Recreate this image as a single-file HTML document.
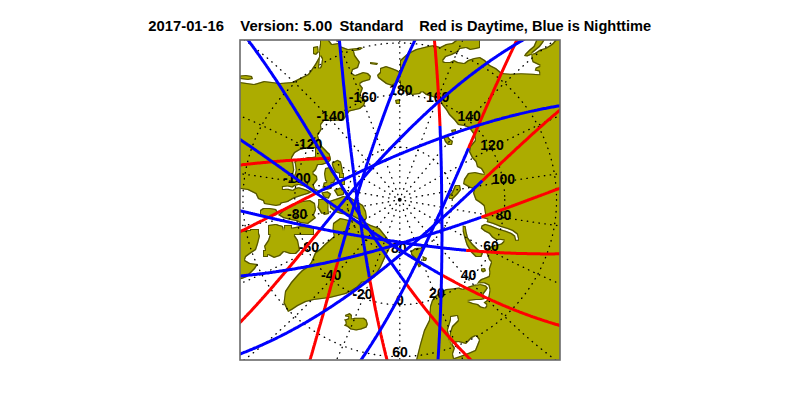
<!DOCTYPE html><html><head><meta charset="utf-8"><style>
html,body{margin:0;padding:0;background:#fff;width:800px;height:400px;overflow:hidden}
.t{position:absolute;top:18px;left:149px;font:bold 14.5px "Liberation Sans",sans-serif;white-space:pre;color:#000}
svg{position:absolute;left:0;top:0}
</style></head><body>
<div class="t" style="left:148.3px;font-size:14.8px">2017-01-16</div><div class="t" style="left:240.3px;font-size:14.9px">Version: 5.00</div><div class="t" style="left:339.4px;font-size:14.8px">Standard</div><div class="t" style="left:419.2px;font-size:14.6px">Red is Daytime, Blue is Nighttime</div>
<svg width="800" height="400" viewBox="0 0 800 400">
<defs><clipPath id="c"><rect x="240" y="40" width="320" height="320"/></clipPath></defs>
<g clip-path="url(#c)">
<filter id="edge" x="230" y="30" width="340" height="340" filterUnits="userSpaceOnUse" color-interpolation-filters="sRGB">
<feColorMatrix in="SourceGraphic" type="matrix" values="0 0 0 0 0  0 0 0 0 0  0 0 0 0 0  0 0 -1 0 1" result="land"/>
<feMorphology in="land" operator="erode" radius="0.7" result="er"/>
<feComposite in="land" in2="er" operator="out" result="edge"/>
<feFlood flood-color="#1a1a00" flood-opacity="0.6"/>
<feComposite in2="edge" operator="in" result="edgec"/>
<feMerge><feMergeNode in="SourceGraphic"/><feMergeNode in="edgec"/></feMerge>
</filter>
<g filter="url(#edge)"><rect x="230" y="30" width="340" height="340" fill="#fff"/><polygon fill="#acac00" points="230,82 240,82 254,84 264,81 280,83 292,82 300,78 308,74 311,70 315,64 319,57 319,50 320,44 320,40 320,30 329,30 329,40 332,44 338,43 339,40 340,46 348,49 357,48 360,47 363,48 360,50 354,51 355,55 360,62 358,68 353,70 352,73 355,75 363,72 368,73 371,76 370,80 363,82 360,84 363,88 362,91 360,96 366,100 364,106 360,109 349.5,111.5 343.5,120.5 324,121 321,125 321.7,129.5 318,135.5 319.5,140 322,146 326,150 330,155 331,160 328,163 322,165 318,165 316,170 313,173 317,176 317.5,180 313.75,185 315,188.75 320,191 322,200 326,214 318,230 300,236 280,240 240,240 230,240"/>
<polygon fill="#fff" points="320,56 322,59 321,66 319,68"/>
<polygon fill="#fff" points="295,153 300,150 304,149 310,148 314,148 320,150 319,156 312,157 308,157 302,159 296,160 293,163 292,158"/>
<polyline fill="none" stroke="#fff" stroke-width="1.5" stroke-linejoin="round" stroke-linecap="round" points="294,163 295,170 294,174"/>
<polyline fill="none" stroke="#fff" stroke-width="2" stroke-linejoin="round" stroke-linecap="round" points="283.75,188 287.5,187.5 292.5,188.75 295,187 298.75,186 303.75,187.5 307.5,188.75 312.5,191 317.5,192.5"/>
<polyline fill="none" stroke="#fff" stroke-width="3.5" stroke-linejoin="round" stroke-linecap="round" points="282.5,205 288.75,203.75 295,200 302.5,197.5 307.5,196 312.5,193.75 317.5,192.5 322,194"/>
<polygon fill="#fff" points="270,207.5 275,208.75 277.5,211 273.75,212.5 270,212.5"/>
<polygon fill="#fff" points="230,187.6 247.6,190 255.6,194 258,199 263,201 264,204 270,205 276,206 281,205 284,204.5 290,201 294,199 300,198 306,195 312,194 318,194 322,196 330,194 345,189 357,196 380,200 400,200 400,370 230,370"/>
<polygon fill="#acac00" points="230,233 248,230 258,230 260,236 258,244 256,250 250,254 246,257 245,260 250,263 258,264 255,269 251,273 247,277 242,279 230,281"/>
<polygon fill="#acac00" points="268,228 276,224 282,226 286,229 292,228 294,234 298,240 300,250 296,254 290,254 284,252 280,256 274,258 266,254 264,246 268,240 270,234"/>
<polygon fill="#fff" points="283,225 289,225 289,230 284,230"/>
<polygon fill="#acac00" points="260,210 263,208 270,208 276,209 278,212 277,215 270,217 265,218 260,215"/>
<polygon fill="#acac00" points="278,215 283,210 290,206 295,203 302,201 310,200 315,203 316,210 314,215 316,218 312,221 308,224 300,223 296,221 290,220 283,218"/>
<polygon fill="#acac00" points="318,199 324,199 328,205 329,214 324,215 320,210"/>
<polygon fill="#acac00" points="268,225 275,224 283,226 283,235 268,235"/>
<polygon fill="#acac00" points="284,225 292,225 292,230 284,230"/>
<polygon fill="#acac00" points="290,228 300,226 314,227 314,235 290,235"/>
<polygon fill="#acac00" points="250,229 259,229 259,235 250,235"/>
<polygon fill="#acac00" points="263,250 268,250 268,257 263,257"/>
<polygon fill="#acac00" points="315,146.7 317.2,146.7 321.7,146.2 325.1,150.1 329.6,153.5 330.7,159.1 327.4,161.4 324,163.6 319.5,164.7 315,165.9"/>
<polygon fill="#acac00" points="331.9,162.5 337.5,159.7 340.9,161.4 342,165.9 343.1,172.6 339.7,173.7 335.2,172.6 333,168.1 331.9,164.7"/>
<polygon fill="#acac00" points="325.1,168.1 329.6,167 331.9,171.5 334.7,174.9 336.4,178.2 334.1,182.7 328.5,183.9 325.1,180.5 324,173.7"/>
<polygon fill="#acac00" points="339,173 344,173 344,178 339,178"/>
<polygon fill="#acac00" points="341,180 345,180 345,185 341,185"/>
<polygon fill="#acac00" points="323.75,182.5 330,181.25 332.5,185 331.25,188.75 326.25,190 322.5,187.5"/>
<polygon fill="#acac00" points="321.25,192.5 327.5,191.25 331.25,193.75 328.75,198.75 323.75,197.5"/>
<polygon fill="#acac00" points="333.75,190 340,187.5 345,188.75 343.75,195 337.5,196.25"/>
<polygon fill="#acac00" points="318.75,200 325,198.75 328.75,203.75 327.5,212.5 321.25,213.75 317.5,207.5"/>
<polygon fill="#acac00" points="338,198 343,196 350,197 358,202 363,205 366,211 367,218 365,221 359,220 350,215 341,214 335,212 330,208 329,201"/>
<polygon fill="#acac00" points="288,312 283.5,303 285,291 291,282 298,274 302,270 308,266 311,262 315,252.5 320,248.75 325,243.75 333.75,236.25 332.5,230 333,223 340,218 345,219 349,220 355,220 365,222 371,225 379.5,228 387.5,238 391,246 386,256 381,267 375,277 367.5,282 362.5,282.5 357.5,287.5 352,291 346,294 338,296 330,298 322,299 314,300 306,302 298,306 292,310"/>
<polygon fill="#acac00" points="313,47 318,46 319,52 316,55 313,54"/>
<polygon fill="#acac00" points="240,75.5 246,75 252,76 253,79 248,80 240,79"/>
<polygon fill="#acac00" points="380,68 386,66 392,68 397,70 402,73 402,80 392,86 386,84 378,78 377,75 380,72"/>
<polygon fill="#acac00" points="370,62 378,63 377,65 370,64"/>
<polygon fill="#acac00" points="395,100 400,99 400,104 396,104"/>
<polygon fill="#acac00" points="400,60 408,53 416,49 428,46 434,45 440,47 446,44 452,43 456,40 456,35 480,35 480,48 476,49 470,50 466,48 460,49 458,52 452,55 446,57 443,61 445,62 450,62 454,60 458,62 464,63 468,60 474,58 480,57 485,60 490,65 496,68 502,73 510.5,73.7 521,73.2 532.6,73.7 539.4,74.2 538.9,71.6 534.7,70.6 535.7,67.4 539.9,65.8 536.8,64.3 532.6,62.2 531.5,59 531.5,54.8 527.3,56.4 524,56 525.2,53.8 529.4,49.6 533.6,45.9 536.2,40 536,35 570,35 570,370 416,370 416,360 420,344 424,330 429,320 430,306 432,300 435,296 440,292 446,289 452,288.5 455,288 459,287.5 462.5,288.75 466,287.5 470,286 473.75,285 477,283.75 478.75,281 481,279 485,277.5 488.75,276 489.4,272.5 488.75,268.75 490,265 491,262 489,260 486.7,254 486,249.5 490.5,246.5 495,245 501,243.5 504,240.5 499.5,239.7 496.5,240.5 492,237.5 489,233.7 484.5,231.5 480.7,228.5 481.5,225.5 486,223.2 487.5,219.5 482.2,218 485.2,215 484.5,210.5 483.7,206 480,203 475.5,200 474,196 473,193 474,189 470,188 463,184 464,179 468,173 475,172 484,174 481,169 477,167 475.6,162 472,158 469,152 470,146 475,140 474,135 469,128 464,126 458,125 454,120 449,115 446,110 442,105 439,99 426,95 422,92 420,94 412,95 406,92 400,90 400,66"/>
<polyline fill="none" stroke="#fff" stroke-width="2" stroke-linejoin="round" stroke-linecap="round" points="484.5,222.5 492,224.7 499.5,227.7 507,230 512,232 516,235 517,239"/>
<polygon fill="#fff" points="531.5,54 536.2,50.1 539.9,46.9 543.1,42.7 545.2,39 556,39 552.5,43.3 549.4,45.4 545.2,48 540,49.6 534.7,52.9"/>
<polygon fill="#fff" points="451,317 457,316 458,320 452,326 450,332 449,338 452,344 458,342 466,344 472,338 476,336 479,340 475,350 468,353 460,356 454,358 453,354 455,348 450,340 448,330 451,320"/>
<polygon fill="#fff" points="473.75,285.5 480,283.75 486,285.6 488,288 486,291 483.75,294 483,297 485,299 481,300 476,300 468,301 473,303 478,304 481,306.5 485,307.5 486.5,305 483.5,302.5 487,300 488.5,296 489.5,290 488.5,285.5 484,283.2 478,283.6"/>
<polygon fill="#acac00" points="481,268.5 485,268 486,271 483,272.5 481,271"/>
<polygon fill="#acac00" points="462.7,225.5 465.7,226.2 466.5,231.5 468,237.5 472.5,243.5 478.5,249.5 483,253.2 481.5,257 475.5,257 471,252.5 466.5,245 464.2,237.5 462.7,231.5"/>
<polygon fill="#acac00" points="455,185 460,185 461,190 458,194 453,199 449,199 448,196 452,192"/>
<polygon fill="#acac00" points="443,137 448,136 450,139 453,141 452,145 448,145 445,142"/>
<polygon fill="#acac00" points="451,130 456,129 456,133 452,133"/>
<polygon fill="#acac00" points="410.6,251.25 415,248 423,247.5 422.5,253.75 418.75,260 421.25,266 418.75,267.5 416.25,262.5 415,258.75 411.25,255"/>
<polygon fill="#acac00" points="422.5,256 427,258 426,261 423,261"/>
<polygon fill="#acac00" points="344.9,315.1 349.7,312.9 352,315.1 351.7,318.4 354.6,317.7 358.8,317.7 364,317.7 366.6,319.7 367.9,324.2 366.6,327.5 361.4,329.4 356.2,330.4 350.4,329.4 347.1,326.8 343.9,325.5 345.8,323.6 345.2,321 343.9,319.7 347.8,318.4 348.4,317.1 345.2,316.4"/></g>
<g stroke="#000" stroke-width="1.35" stroke-linecap="round" stroke-dasharray="0.45 5.45" fill="none"><polyline points="399.8,205.2 399.8,209.1 399.8,213.1 399.8,217.1 399.8,221.1 399.8,225.0 399.8,229.0 399.8,233.0 399.8,237.0 399.8,240.9 399.8,244.9 399.8,248.9 399.8,252.9 399.8,256.8 399.8,260.8 399.8,264.8 399.8,268.8 399.8,272.7 399.8,276.7 399.8,280.7 399.8,284.7 399.8,288.7 399.8,292.6 399.8,296.6 399.8,300.6 399.8,304.6 399.8,308.5 399.8,312.5 399.8,316.5 399.8,320.5 399.8,324.4 399.8,328.4 399.8,332.4 399.8,336.4 399.8,340.3 399.8,344.3 399.8,348.3 399.8,352.3 399.8,356.2 399.8,360.2 399.8,364.2 399.8,368.2 399.8,372.2 399.8,376.1 399.8,380.1 399.8,384.1 399.8,388.1 399.8,392.0 399.8,396.0 399.8,400.0 399.8,404.0 399.8,407.9 399.8,411.9 399.8,415.9 399.8,419.9 399.8,423.8 399.8,427.8 399.8,431.8 399.8,435.8 399.8,439.8"/><polyline points="403.5,210.0 404.8,213.6 406.1,217.3 407.5,220.9 408.8,224.6 410.1,228.2 411.5,231.9 412.8,235.5 414.1,239.2 415.5,242.8 416.8,246.5 418.2,250.1 419.5,253.7 420.9,257.4 422.3,261.0 423.6,264.6 425.0,268.3 426.4,271.9 427.8,275.5 429.2,279.2 430.6,282.8 432.0,286.4 433.4,290.0 434.8,293.6 436.2,297.2 437.7,300.9 439.1,304.5 440.5,308.1 442.0,311.7 443.5,315.3 445.0,318.8 446.5,322.4 448.0,326.0 449.5,329.6 451.0,333.2 452.6,336.7 454.1,340.3 455.7,343.9 457.3,347.4 458.9,350.9 460.5,354.5 462.1,358.0 463.7,361.5 465.4,365.1 467.1,368.6 468.7,372.1 470.4,375.6 472.2,379.1 473.9,382.6 475.7,386.0 477.4,389.5 479.2,393.0 481.0,396.4 482.9,399.9 484.7,403.3 486.6,406.7 488.5,410.2 490.4,413.6 492.3,417.0 494.3,420.3"/><polyline points="403.2,203.9 405.8,206.9 408.3,210.0 410.9,213.0 413.5,216.1 416.0,219.1 418.6,222.1 421.1,225.2 423.7,228.2 426.3,231.3 428.9,234.3 431.4,237.3 434.0,240.3 436.6,243.4 439.2,246.4 441.8,249.4 444.4,252.4 447.0,255.4 449.6,258.4 452.3,261.4 454.9,264.3 457.5,267.3 460.2,270.3 462.9,273.2 465.5,276.2 468.2,279.1 470.9,282.0 473.6,284.9 476.3,287.9 479.1,290.7 481.8,293.6 484.6,296.5 487.3,299.4 490.1,302.2 492.9,305.0 495.7,307.9 498.6,310.7 501.4,313.4 504.3,316.2 507.2,319.0 510.1,321.7 513.0,324.4 515.9,327.1 518.9,329.8 521.9,332.5 524.8,335.1 527.9,337.8 530.9,340.4 534.0,342.9 537.0,345.5 540.2,348.0 543.3,350.6 546.4,353.0 549.6,355.5 552.8,357.9 556.0,360.4 559.3,362.7 562.6,365.1 565.9,367.4 569.2,369.7"/><polyline points="409.2,205.2 412.6,207.1 415.9,209.1 419.3,211.0 422.6,213.0 426.0,214.9 429.4,216.8 432.8,218.7 436.1,220.7 439.5,222.6 442.9,224.5 446.3,226.4 449.6,228.3 453.0,230.2 456.4,232.1 459.8,234.0 463.2,235.9 466.6,237.8 470.0,239.7 473.4,241.5 476.8,243.4 480.2,245.2 483.7,247.1 487.1,248.9 490.5,250.7 493.9,252.5 497.4,254.3 500.8,256.1 504.3,257.9 507.8,259.6 511.2,261.4 514.7,263.1 518.2,264.8 521.7,266.5 525.2,268.2 528.7,269.9 532.2,271.6 535.8,273.2 539.3,274.8 542.8,276.4 546.4,278.0 550.0,279.6 553.5,281.1 557.1,282.6 560.7,284.1 564.3,285.6 568.0,287.1 571.6,288.5 575.2,289.9 578.9,291.3 582.5,292.7 586.2,294.0 589.9,295.3 593.6,296.6 597.3,297.9 601.0,299.1 604.8,300.3 608.5,301.5 612.3,302.7 616.0,303.8"/><polyline points="405.1,200.7 409.0,201.4 412.9,202.1 416.8,202.8 420.7,203.4 424.6,204.1 428.6,204.8 432.5,205.5 436.4,206.2 440.3,206.9 444.2,207.6 448.2,208.2 452.1,208.9 456.0,209.6 459.9,210.3 463.8,210.9 467.7,211.6 471.7,212.3 475.6,212.9 479.5,213.6 483.4,214.2 487.4,214.9 491.3,215.5 495.2,216.2 499.1,216.8 503.1,217.5 507.0,218.1 510.9,218.7 514.8,219.3 518.8,219.9 522.7,220.5 526.6,221.1 530.6,221.7 534.5,222.3 538.4,222.9 542.4,223.5 546.3,224.0 550.2,224.6 554.2,225.1 558.1,225.7 562.1,226.2 566.0,226.7 569.9,227.3 573.9,227.8 577.8,228.3 581.8,228.7 585.7,229.2 589.7,229.7 593.6,230.1 597.6,230.6 601.6,231.0 605.5,231.4 609.5,231.9 613.4,232.2 617.4,232.6 621.4,233.0 625.3,233.4 629.3,233.7 633.3,234.1 637.2,234.4"/><polyline points="410.5,197.9 414.3,197.2 418.1,196.5 422.0,195.8 425.8,195.2 429.6,194.5 433.4,193.8 437.3,193.2 441.1,192.5 444.9,191.8 448.7,191.2 452.6,190.5 456.4,189.8 460.2,189.2 464.0,188.5 467.9,187.9 471.7,187.2 475.5,186.6 479.4,185.9 483.2,185.3 487.0,184.7 490.8,184.0 494.7,183.4 498.5,182.8 502.3,182.2 506.2,181.5 510.0,180.9 513.9,180.3 517.7,179.7 521.5,179.1 525.4,178.6 529.2,178.0 533.0,177.4 536.9,176.8 540.7,176.3 544.6,175.7 548.4,175.2 552.3,174.6 556.1,174.1 560.0,173.6 563.8,173.1 567.7,172.5 571.5,172.0 575.4,171.6 579.2,171.1 583.1,170.6 586.9,170.1 590.8,169.7 594.7,169.2 598.5,168.8 602.4,168.4 606.3,168.0 610.1,167.6 614.0,167.2 617.9,166.8 621.7,166.5 625.6,166.1 629.5,165.8 633.4,165.4 637.2,165.1"/><polyline points="404.4,197.1 407.9,195.1 411.3,193.1 414.8,191.1 418.2,189.1 421.7,187.1 425.1,185.1 428.5,183.2 432.0,181.2 435.5,179.2 438.9,177.2 442.4,175.3 445.8,173.3 449.3,171.4 452.7,169.4 456.2,167.5 459.7,165.5 463.2,163.6 466.6,161.7 470.1,159.8 473.6,157.8 477.1,155.9 480.6,154.1 484.1,152.2 487.6,150.3 491.1,148.4 494.7,146.6 498.2,144.8 501.7,142.9 505.3,141.1 508.8,139.3 512.4,137.5 515.9,135.8 519.5,134.0 523.1,132.3 526.7,130.6 530.3,128.9 533.9,127.2 537.5,125.5 541.1,123.9 544.8,122.2 548.4,120.6 552.1,119.0 555.8,117.4 559.4,115.9 563.1,114.4 566.8,112.9 570.5,111.4 574.3,109.9 578.0,108.5 581.7,107.1 585.5,105.7 589.3,104.4 593.1,103.1 596.9,101.8 600.7,100.5 604.5,99.3 608.3,98.0 612.2,96.9 616.0,95.7"/><polyline points="406.8,191.4 409.3,188.4 411.8,185.5 414.3,182.5 416.8,179.5 419.3,176.5 421.8,173.6 424.3,170.6 426.8,167.7 429.3,164.7 431.8,161.7 434.3,158.8 436.9,155.8 439.4,152.9 441.9,150.0 444.5,147.0 447.0,144.1 449.6,141.2 452.2,138.3 454.7,135.4 457.3,132.5 459.9,129.6 462.5,126.7 465.1,123.8 467.7,120.9 470.4,118.1 473.0,115.2 475.7,112.4 478.3,109.5 481.0,106.7 483.7,103.9 486.4,101.1 489.1,98.3 491.8,95.6 494.6,92.8 497.3,90.1 500.1,87.3 502.9,84.6 505.7,81.9 508.5,79.2 511.4,76.6 514.2,73.9 517.1,71.3 520.0,68.7 522.9,66.1 525.8,63.5 528.8,60.9 531.8,58.4 534.8,55.9 537.8,53.4 540.8,50.9 543.9,48.5 547.0,46.0 550.1,43.6 553.2,41.3 556.3,38.9 559.5,36.6 562.7,34.3 565.9,32.0 569.2,29.8"/><polyline points="401.6,194.7 403.0,190.9 404.3,187.2 405.7,183.5 407.0,179.7 408.4,176.0 409.8,172.3 411.1,168.5 412.5,164.8 413.9,161.1 415.3,157.3 416.6,153.6 418.0,149.9 419.4,146.1 420.8,142.4 422.2,138.7 423.6,135.0 425.0,131.3 426.4,127.5 427.8,123.8 429.2,120.1 430.7,116.4 432.1,112.7 433.6,109.0 435.0,105.3 436.5,101.6 437.9,97.9 439.4,94.2 440.9,90.5 442.4,86.8 443.9,83.2 445.5,79.5 447.0,75.8 448.5,72.1 450.1,68.5 451.7,64.8 453.3,61.2 454.8,57.5 456.5,53.9 458.1,50.3 459.7,46.6 461.4,43.0 463.1,39.4 464.7,35.8 466.4,32.2 468.2,28.6 469.9,25.0 471.7,21.4 473.4,17.8 475.2,14.3 477.0,10.7 478.9,7.2 480.7,3.6 482.6,0.1 484.5,-3.4 486.4,-6.9 488.4,-10.4 490.3,-13.9 492.3,-17.4 494.3,-20.8"/><polyline points="399.8,188.8 399.8,185.0 399.8,181.1 399.8,177.2 399.8,173.3 399.8,169.4 399.8,165.6 399.8,161.7 399.8,157.8 399.8,153.9 399.8,150.0 399.8,146.1 399.8,142.3 399.8,138.4 399.8,134.5 399.8,130.6 399.8,126.7 399.8,122.8 399.8,119.0 399.8,115.1 399.8,111.2 399.8,107.3 399.8,103.4 399.8,99.5 399.8,95.7 399.8,91.8 399.8,87.9 399.8,84.0 399.8,80.1 399.8,76.2 399.8,72.4 399.8,68.5 399.8,64.6 399.8,60.7 399.8,56.8 399.8,52.9 399.8,49.1 399.8,45.2 399.8,41.3 399.8,37.4 399.8,33.5 399.8,29.6 399.8,25.8 399.8,21.9 399.8,18.0 399.8,14.1 399.8,10.2 399.8,6.3 399.8,2.5 399.8,-1.4 399.8,-5.3 399.8,-9.2 399.8,-13.1 399.8,-17.0 399.8,-20.8 399.8,-24.7 399.8,-28.6 399.8,-32.5 399.8,-36.4 399.8,-40.2"/><polyline points="397.9,194.7 396.5,190.9 395.2,187.2 393.8,183.5 392.5,179.7 391.1,176.0 389.7,172.3 388.4,168.5 387.0,164.8 385.6,161.1 384.2,157.3 382.9,153.6 381.5,149.9 380.1,146.1 378.7,142.4 377.3,138.7 375.9,135.0 374.5,131.3 373.1,127.5 371.7,123.8 370.3,120.1 368.8,116.4 367.4,112.7 365.9,109.0 364.5,105.3 363.0,101.6 361.6,97.9 360.1,94.2 358.6,90.5 357.1,86.8 355.6,83.2 354.0,79.5 352.5,75.8 351.0,72.1 349.4,68.5 347.8,64.8 346.2,61.2 344.7,57.5 343.0,53.9 341.4,50.3 339.8,46.6 338.1,43.0 336.4,39.4 334.8,35.8 333.1,32.2 331.3,28.6 329.6,25.0 327.8,21.4 326.1,17.8 324.3,14.3 322.5,10.7 320.6,7.2 318.8,3.6 316.9,0.1 315.0,-3.4 313.1,-6.9 311.1,-10.4 309.2,-13.9 307.2,-17.4 305.2,-20.8"/><polyline points="392.7,191.4 390.2,188.4 387.7,185.5 385.2,182.5 382.7,179.5 380.2,176.5 377.7,173.6 375.2,170.6 372.7,167.7 370.2,164.7 367.7,161.7 365.2,158.8 362.6,155.8 360.1,152.9 357.6,150.0 355.0,147.0 352.5,144.1 349.9,141.2 347.3,138.3 344.8,135.4 342.2,132.5 339.6,129.6 337.0,126.7 334.4,123.8 331.8,120.9 329.1,118.1 326.5,115.2 323.8,112.4 321.2,109.5 318.5,106.7 315.8,103.9 313.1,101.1 310.4,98.3 307.7,95.6 304.9,92.8 302.2,90.1 299.4,87.3 296.6,84.6 293.8,81.9 291.0,79.2 288.1,76.6 285.3,73.9 282.4,71.3 279.5,68.7 276.6,66.1 273.7,63.5 270.7,60.9 267.7,58.4 264.7,55.9 261.7,53.4 258.7,50.9 255.6,48.5 252.5,46.0 249.4,43.6 246.3,41.3 243.2,38.9 240.0,36.6 236.8,34.3 233.6,32.0 230.3,29.8"/><polyline points="395.1,197.1 391.6,195.1 388.2,193.1 384.7,191.1 381.3,189.1 377.8,187.1 374.4,185.1 371.0,183.2 367.5,181.2 364.0,179.2 360.6,177.2 357.1,175.3 353.7,173.3 350.2,171.4 346.8,169.4 343.3,167.5 339.8,165.5 336.3,163.6 332.9,161.7 329.4,159.8 325.9,157.8 322.4,155.9 318.9,154.1 315.4,152.2 311.9,150.3 308.4,148.4 304.8,146.6 301.3,144.8 297.8,142.9 294.2,141.1 290.7,139.3 287.1,137.5 283.6,135.8 280.0,134.0 276.4,132.3 272.8,130.6 269.2,128.9 265.6,127.2 262.0,125.5 258.4,123.9 254.7,122.2 251.1,120.6 247.4,119.0 243.7,117.4 240.1,115.9 236.4,114.4 232.7,112.9 229.0,111.4 225.2,109.9 221.5,108.5 217.8,107.1 214.0,105.7 210.2,104.4 206.4,103.1 202.6,101.8 198.8,100.5 195.0,99.3 191.2,98.0 187.3,96.9 183.5,95.7"/><polyline points="389.0,197.9 385.2,197.2 381.4,196.5 377.5,195.8 373.7,195.2 369.9,194.5 366.1,193.8 362.2,193.2 358.4,192.5 354.6,191.8 350.8,191.2 346.9,190.5 343.1,189.8 339.3,189.2 335.5,188.5 331.6,187.9 327.8,187.2 324.0,186.6 320.1,185.9 316.3,185.3 312.5,184.7 308.7,184.0 304.8,183.4 301.0,182.8 297.2,182.2 293.3,181.5 289.5,180.9 285.6,180.3 281.8,179.7 278.0,179.1 274.1,178.6 270.3,178.0 266.5,177.4 262.6,176.8 258.8,176.3 254.9,175.7 251.1,175.2 247.2,174.6 243.4,174.1 239.5,173.6 235.7,173.1 231.8,172.5 228.0,172.0 224.1,171.6 220.3,171.1 216.4,170.6 212.6,170.1 208.7,169.7 204.8,169.2 201.0,168.8 197.1,168.4 193.2,168.0 189.4,167.6 185.5,167.2 181.6,166.8 177.8,166.5 173.9,166.1 170.0,165.8 166.1,165.4 162.3,165.1"/><polyline points="394.4,200.7 390.5,201.4 386.6,202.1 382.7,202.8 378.8,203.4 374.9,204.1 370.9,204.8 367.0,205.5 363.1,206.2 359.2,206.9 355.3,207.6 351.3,208.2 347.4,208.9 343.5,209.6 339.6,210.3 335.7,210.9 331.8,211.6 327.8,212.3 323.9,212.9 320.0,213.6 316.1,214.2 312.1,214.9 308.2,215.5 304.3,216.2 300.4,216.8 296.4,217.5 292.5,218.1 288.6,218.7 284.7,219.3 280.7,219.9 276.8,220.5 272.9,221.1 268.9,221.7 265.0,222.3 261.1,222.9 257.1,223.5 253.2,224.0 249.3,224.6 245.3,225.1 241.4,225.7 237.4,226.2 233.5,226.7 229.6,227.3 225.6,227.8 221.7,228.3 217.7,228.7 213.8,229.2 209.8,229.7 205.9,230.1 201.9,230.6 197.9,231.0 194.0,231.4 190.0,231.9 186.1,232.2 182.1,232.6 178.1,233.0 174.2,233.4 170.2,233.7 166.2,234.1 162.3,234.4"/><polyline points="390.3,205.2 386.9,207.1 383.6,209.1 380.2,211.0 376.9,213.0 373.5,214.9 370.1,216.8 366.7,218.7 363.4,220.7 360.0,222.6 356.6,224.5 353.2,226.4 349.9,228.3 346.5,230.2 343.1,232.1 339.7,234.0 336.3,235.9 332.9,237.8 329.5,239.7 326.1,241.5 322.7,243.4 319.3,245.2 315.8,247.1 312.4,248.9 309.0,250.7 305.6,252.5 302.1,254.3 298.7,256.1 295.2,257.9 291.7,259.6 288.3,261.4 284.8,263.1 281.3,264.8 277.8,266.5 274.3,268.2 270.8,269.9 267.3,271.6 263.7,273.2 260.2,274.8 256.7,276.4 253.1,278.0 249.5,279.6 246.0,281.1 242.4,282.6 238.8,284.1 235.2,285.6 231.5,287.1 227.9,288.5 224.3,289.9 220.6,291.3 217.0,292.7 213.3,294.0 209.6,295.3 205.9,296.6 202.2,297.9 198.5,299.1 194.7,300.3 191.0,301.5 187.2,302.7 183.5,303.8"/><polyline points="396.3,203.9 393.7,206.9 391.2,210.0 388.6,213.0 386.0,216.1 383.5,219.1 380.9,222.1 378.4,225.2 375.8,228.2 373.2,231.3 370.6,234.3 368.1,237.3 365.5,240.3 362.9,243.4 360.3,246.4 357.7,249.4 355.1,252.4 352.5,255.4 349.9,258.4 347.2,261.4 344.6,264.3 342.0,267.3 339.3,270.3 336.6,273.2 334.0,276.2 331.3,279.1 328.6,282.0 325.9,284.9 323.2,287.9 320.4,290.7 317.7,293.6 314.9,296.5 312.2,299.4 309.4,302.2 306.6,305.0 303.8,307.9 300.9,310.7 298.1,313.4 295.2,316.2 292.3,319.0 289.4,321.7 286.5,324.4 283.6,327.1 280.6,329.8 277.6,332.5 274.7,335.1 271.6,337.8 268.6,340.4 265.5,342.9 262.5,345.5 259.3,348.0 256.2,350.6 253.1,353.0 249.9,355.5 246.7,357.9 243.5,360.4 240.2,362.7 236.9,365.1 233.6,367.4 230.3,369.7"/><polyline points="396.0,210.0 394.7,213.6 393.4,217.3 392.0,220.9 390.7,224.6 389.4,228.2 388.0,231.9 386.7,235.5 385.4,239.2 384.0,242.8 382.7,246.5 381.3,250.1 380.0,253.7 378.6,257.4 377.2,261.0 375.9,264.6 374.5,268.3 373.1,271.9 371.7,275.5 370.3,279.2 368.9,282.8 367.5,286.4 366.1,290.0 364.7,293.6 363.3,297.2 361.8,300.9 360.4,304.5 359.0,308.1 357.5,311.7 356.0,315.3 354.5,318.8 353.0,322.4 351.5,326.0 350.0,329.6 348.5,333.2 346.9,336.7 345.4,340.3 343.8,343.9 342.2,347.4 340.6,350.9 339.0,354.5 337.4,358.0 335.8,361.5 334.1,365.1 332.4,368.6 330.8,372.1 329.1,375.6 327.3,379.1 325.6,382.6 323.8,386.0 322.1,389.5 320.3,393.0 318.5,396.4 316.6,399.9 314.8,403.3 312.9,406.7 311.0,410.2 309.1,413.6 307.2,417.0 305.2,420.3"/><circle cx="399.75" cy="199.75" r="52.5"/><circle cx="399.75" cy="199.75" r="105.0"/><circle cx="399.75" cy="199.75" r="156.8"/></g><circle cx="399.75" cy="199.75" r="1.9" fill="#000"/>
<g font-family="Liberation Sans, sans-serif" font-weight="bold" font-size="14" text-anchor="middle" fill="#000"><text x="362.8" y="101.9">-160</text><text x="400.9" y="95.4">180</text><text x="437.6" y="101.9">160</text><text x="330.6" y="121.4">-140</text><text x="308.4" y="149.0">-120</text><text x="296.9" y="182.9">-100</text><text x="297.2" y="218.9">-80</text><text x="308.9" y="251.9">-60</text><text x="331.1" y="280.2">-40</text><text x="362.5" y="298.8">-20</text><text x="400.0" y="305.0">0</text><text x="436.9" y="298.2">20</text><text x="400.0" y="357.0">60</text><text x="469.2" y="121.1">140</text><text x="492.0" y="149.7">120</text><text x="503.4" y="183.8">100</text><text x="503.4" y="219.6">80</text><text x="491.0" y="251.0">60</text><text x="468.5" y="279.6">40</text><text x="398.8" y="253.0">80</text></g>
<g fill="none" stroke-width="3"><polyline stroke="#f00" points="433.6,31.1 433.7,32.2 433.8,33.3 433.9,34.5 434.0,35.6 434.1,36.7 434.2,37.8 434.3,38.9 434.4,40.0 434.5,41.1 434.6,42.2 434.7,43.3 434.8,44.4 434.9,45.5 435.0,46.6 435.1,47.7 435.2,48.8 435.3,49.9 435.4,51.0 435.5,52.1 435.6,53.2 435.6,54.3 435.7,55.4 435.8,56.5 435.9,57.6 436.0,58.7 436.1,59.8 436.2,60.9 436.2,61.9 436.3,63.0 436.4,64.1 436.5,65.2 436.6,66.3 436.7,67.4 436.7,68.5 436.8,69.5 436.9,70.6 437.0,71.7 437.0,72.8 437.1,73.9 437.2,74.9 437.3,76.0 437.3,77.1 437.4,78.2 437.5,79.3 437.6,80.3 437.6,81.4 437.7,82.5 437.8,83.6 437.8,84.6 437.9,85.7 438.0,86.8 438.0,87.8 438.1,88.9 438.2,90.0 438.2,91.0 438.3,92.1 438.4,93.2 438.4,94.2 438.5,95.3 438.5,96.4 438.6,97.4 438.7,98.5 438.7,99.6 438.8,100.6 438.8,101.7 438.9,102.8 439.0,103.8 439.0,104.9 439.1,105.9 439.1,107.0 439.2,108.0 439.2,109.1 439.3,110.2 439.3,111.2 439.4,112.3 439.4,113.3 439.5,114.4 439.5,115.4 439.6,116.5 439.6,117.6 439.7,118.6 439.7,119.7 439.8,120.7 439.8,121.8 439.9,122.8 439.9,123.9 440.0,124.9 440.0,126.0"/><polyline stroke="#f00" points="521.5,30.8 521.0,31.9 520.5,32.9 520.0,33.9 519.5,34.9 519.0,35.9 518.5,37.0 518.0,38.0 517.5,39.0 517.0,40.0 516.5,41.0 516.0,42.0 515.5,43.0 515.0,44.1 514.6,45.1 514.1,46.1 513.6,47.1 513.1,48.1 512.6,49.1 512.1,50.1 511.7,51.1 511.2,52.1 510.7,53.1 510.2,54.1 509.8,55.1 509.3,56.2 508.8,57.2 508.4,58.2 507.9,59.2 507.4,60.2 507.0,61.2 506.5,62.2 506.0,63.2 505.6,64.2 505.1,65.2 504.6,66.2 504.2,67.2 503.7,68.2 503.3,69.2 502.8,70.2 502.4,71.2 501.9,72.2 501.5,73.1 501.0,74.1 500.5,75.1 500.1,76.1 499.6,77.1 499.2,78.1 498.8,79.1 498.3,80.1 497.9,81.1 497.4,82.1 497.0,83.1 496.5,84.1 496.1,85.0 495.6,86.0 495.2,87.0 494.8,88.0 494.3,89.0 493.9,90.0 493.4,91.0 493.0,92.0 492.6,92.9 492.1,93.9 491.7,94.9 491.3,95.9 490.8,96.9 490.4,97.9 490.0,98.8 489.5,99.8 489.1,100.8 488.7,101.8 488.2,102.8 487.8,103.7 487.4,104.7 487.0,105.7 486.5,106.7 486.1,107.7 485.7,108.6 485.2,109.6 484.8,110.6 484.4,111.6 484.0,112.5 483.5,113.5 483.1,114.5 482.7,115.5 482.3,116.4 481.9,117.4 481.4,118.4 481.0,119.3 480.6,120.3 480.2,121.3 479.7,122.3 479.3,123.2 478.9,124.2 478.5,125.2 478.1,126.1 477.6,127.1 477.2,128.1 476.8,129.0 476.4,130.0 476.0,131.0 475.6,131.9 475.1,132.9 474.7,133.9 474.3,134.8 473.9,135.8 473.5,136.8 473.0,137.7 472.6,138.7 472.2,139.7 471.8,140.6 471.4,141.6 471.0,142.6 470.6,143.5 470.1,144.5 469.7,145.4 469.3,146.4 468.9,147.4 468.5,148.3"/><polyline stroke="#f00" points="569.4,102.2 568.6,102.9 567.7,103.6 566.8,104.3 566.0,105.0 565.1,105.7 564.3,106.4 563.4,107.2 562.6,107.9 561.7,108.6 560.8,109.3 560.0,110.0 559.2,110.7 558.3,111.4 557.5,112.1 556.6,112.9 555.8,113.6 554.9,114.3 554.1,115.0 553.3,115.7 552.4,116.4 551.6,117.2 550.8,117.9 549.9,118.6 549.1,119.3 548.3,120.0 547.5,120.7 546.6,121.5 545.8,122.2 545.0,122.9 544.2,123.6 543.4,124.3 542.5,125.1 541.7,125.8 540.9,126.5 540.1,127.2 539.3,128.0 538.5,128.7 537.7,129.4 536.9,130.1 536.0,130.8 535.2,131.6 534.4,132.3 533.6,133.0 532.8,133.7 532.0,134.5 531.2,135.2 530.4,135.9 529.6,136.6 528.8,137.4 528.0,138.1 527.3,138.8 526.5,139.5 525.7,140.3 524.9,141.0 524.1,141.7 523.3,142.4 522.5,143.2 521.7,143.9 520.9,144.6 520.1,145.3 519.4,146.1 518.6,146.8 517.8,147.5 517.0,148.2 516.2,149.0 515.4,149.7 514.7,150.4 513.9,151.1 513.1,151.9 512.3,152.6 511.5,153.3 510.8,154.0 510.0,154.8 509.2,155.5 508.4,156.2 507.7,156.9 506.9,157.7 506.1,158.4 505.3,159.1 504.6,159.8 503.8,160.5 503.0,161.3 502.3,162.0 501.5,162.7 500.7,163.4 500.0,164.2 499.2,164.9 498.4,165.6 497.7,166.3 496.9,167.1 496.1,167.8 495.4,168.5 494.6,169.2 493.8,169.9 493.1,170.7 492.3,171.4 491.5,172.1 490.8,172.8 490.0,173.6 489.2,174.3 488.5,175.0 487.7,175.7 486.9,176.4 486.2,177.2 485.4,177.9 484.7,178.6 483.9,179.3 483.1,180.0 482.4,180.7"/><polyline stroke="#f00" points="569.3,184.7 568.3,185.1 567.3,185.5 566.2,185.9 565.2,186.3 564.1,186.7 563.1,187.0 562.1,187.4 561.0,187.8 560.0,188.2 559.0,188.6 557.9,189.0 556.9,189.4 555.9,189.7 554.8,190.1 553.8,190.5 552.8,190.9 551.8,191.3 550.7,191.6 549.7,192.0 548.7,192.4 547.7,192.8 546.6,193.2 545.6,193.6 544.6,193.9 543.6,194.3 542.5,194.7 541.5,195.1 540.5,195.5 539.5,195.8 538.5,196.2 537.5,196.6 536.4,197.0 535.4,197.4 534.4,197.7 533.4,198.1 532.4,198.5 531.4,198.9 530.4,199.3 529.3,199.6 528.3,200.0 527.3,200.4 526.3,200.8 525.3,201.1 524.3,201.5 523.3,201.9 522.3,202.3 521.3,202.6 520.3,203.0 519.2,203.4 518.2,203.8 517.2,204.1 516.2,204.5 515.2,204.9 514.2,205.3 513.2,205.6 512.2,206.0 511.2,206.4 510.2,206.7 509.2,207.1 508.2,207.5 507.2,207.8 506.2,208.2 505.2,208.6 504.2,208.9 503.2,209.3 502.2,209.7 501.2,210.0 500.2,210.4 499.2,210.8 498.2,211.1 497.2,211.5 496.2,211.8 495.2,212.2 494.2,212.6 493.2,212.9 492.2,213.3 491.2,213.6 490.2,214.0 489.2,214.4 488.2,214.7 487.2,215.1 486.2,215.4 485.2,215.8 484.2,216.1 483.2,216.5 482.2,216.9 481.2,217.2"/><polyline stroke="#f00" points="569.1,253.6 568.0,253.7 566.8,253.7 565.7,253.7 564.5,253.7 563.4,253.7 562.3,253.8 561.1,253.8 560.0,253.8 558.9,253.8 557.7,253.8 556.6,253.8 555.5,253.8 554.4,253.9 553.2,253.9 552.1,253.9 551.0,253.9 549.8,253.9 548.7,253.9 547.6,253.9 546.5,253.9 545.4,253.9 544.2,253.9 543.1,253.9 542.0,253.9 540.9,253.9 539.8,253.8 538.7,253.8 537.6,253.8 536.4,253.8 535.3,253.8 534.2,253.8 533.1,253.8 532.0,253.7 530.9,253.7 529.8,253.7 528.7,253.7 527.6,253.7 526.5,253.6 525.4,253.6 524.3,253.6 523.2,253.6 522.1,253.5 521.0,253.5 519.9,253.5 518.8,253.4 517.7,253.4 516.6,253.4 515.5,253.3 514.4,253.3 513.3,253.2 512.2,253.2 511.2,253.2 510.1,253.1 509.0,253.1 507.9,253.0 506.8,253.0 505.7,252.9 504.6,252.9 503.5,252.8 502.5,252.8 501.4,252.7 500.3,252.7 499.2,252.6 498.1,252.5 497.1,252.5 496.0,252.4 494.9,252.4 493.8,252.3 492.7,252.2 491.7,252.2 490.6,252.1 489.5,252.0 488.4,252.0 487.4,251.9 486.3,251.8 485.2,251.8 484.2,251.7 483.1,251.6 482.0,251.5 481.0,251.5 479.9,251.4 478.8,251.3 477.8,251.2 476.7,251.1 475.6,251.1 474.6,251.0 473.5,250.9 472.4,250.8 471.4,250.7 470.3,250.6 469.2,250.5 468.2,250.4 467.1,250.4 466.1,250.3"/><polyline stroke="#f00" points="569.4,328.1 568.2,327.8 567.0,327.4 565.8,327.1 564.7,326.8 563.5,326.5 562.3,326.2 561.2,325.8 560.0,325.5 558.8,325.2 557.7,324.8 556.5,324.5 555.4,324.2 554.2,323.8 553.1,323.5 552.0,323.1 550.8,322.8 549.7,322.4 548.5,322.1 547.4,321.7 546.3,321.3 545.2,321.0 544.0,320.6 542.9,320.3 541.8,319.9 540.7,319.5 539.6,319.1 538.5,318.8 537.3,318.4 536.2,318.0 535.1,317.6 534.0,317.2 532.9,316.9 531.8,316.5 530.7,316.1 529.7,315.7 528.6,315.3 527.5,314.9 526.4,314.5 525.3,314.1 524.2,313.7 523.2,313.3 522.1,312.9 521.0,312.5 519.9,312.1 518.9,311.7 517.8,311.2 516.7,310.8 515.7,310.4 514.6,310.0 513.6,309.6 512.5,309.1 511.4,308.7 510.4,308.3 509.3,307.9 508.3,307.4 507.3,307.0 506.2,306.6 505.2,306.1 504.1,305.7 503.1,305.3 502.1,304.8 501.0,304.4 500.0,303.9 499.0,303.5 497.9,303.0 496.9,302.6 495.9,302.1 494.9,301.7 493.9,301.2 492.8,300.8 491.8,300.3 490.8,299.9 489.8,299.4 488.8,298.9 487.8,298.5 486.8,298.0 485.8,297.5 484.8,297.1 483.8,296.6 482.8,296.1 481.8,295.7 480.8,295.2 479.8,294.7 478.8,294.3 477.8,293.8 476.8,293.3 475.8,292.8 474.9,292.3 473.9,291.9 472.9,291.4 471.9,290.9 470.9,290.4 470.0,289.9 469.0,289.4 468.0,288.9 467.0,288.4 466.1,288.0 465.1,287.5 464.1,287.0 463.2,286.5 462.2,286.0 461.3,285.5 460.3,285.0 459.3,284.5 458.4,284.0 457.4,283.5 456.5,283.0 455.5,282.5 454.6,282.0 453.6,281.4 452.7,280.9 451.7,280.4 450.8,279.9 449.8,279.4 448.9,278.9 447.9,278.4 447.0,277.9 446.1,277.3 445.1,276.8 444.2,276.3 443.3,275.8 442.3,275.3 441.4,274.7 440.5,274.2"/><polyline stroke="#f00" points="481.1,369.7 480.3,368.9 479.4,368.1 478.6,367.3 477.7,366.5 476.9,365.7 476.0,364.9 475.2,364.1 474.3,363.2 473.5,362.4 472.7,361.6 471.8,360.8 471.0,360.0 470.2,359.2 469.4,358.4 468.5,357.6 467.7,356.7 466.9,355.9 466.1,355.1 465.3,354.3 464.5,353.5 463.7,352.6 462.9,351.8 462.1,351.0 461.3,350.2 460.5,349.4 459.7,348.5 458.9,347.7 458.2,346.9 457.4,346.0 456.6,345.2 455.8,344.4 455.1,343.6 454.3,342.7 453.5,341.9 452.8,341.1 452.0,340.2 451.3,339.4 450.5,338.6 449.7,337.7 449.0,336.9 448.3,336.1 447.5,335.2 446.8,334.4 446.0,333.6 445.3,332.7 444.6,331.9 443.8,331.1 443.1,330.2 442.4,329.4 441.6,328.5 440.9,327.7 440.2,326.9 439.5,326.0 438.8,325.2 438.0,324.3 437.3,323.5 436.6,322.7 435.9,321.8 435.2,321.0 434.5,320.1 433.8,319.3 433.1,318.4 432.4,317.6 431.7,316.8 431.0,315.9 430.3,315.1 429.6,314.2 428.9,313.4 428.3,312.5 427.6,311.7 426.9,310.8 426.2,310.0 425.5,309.1 424.9,308.3 424.2,307.4 423.5,306.6 422.8,305.7 422.2,304.9 421.5,304.0 420.8,303.2 420.2,302.3 419.5,301.5 418.9,300.6 418.2,299.8 417.5,298.9 416.9,298.1 416.2,297.2 415.6,296.4 414.9,295.5 414.3,294.6 413.6,293.8 413.0,292.9 412.3,292.1 411.7,291.2 411.1,290.4 410.4,289.5 409.8,288.7 409.1,287.8 408.5,286.9 407.9,286.1 407.2,285.2 406.6,284.4 406.0,283.5 405.4,282.7"/><polyline stroke="#f00" points="389.5,369.7 389.2,368.7 389.0,367.6 388.7,366.5 388.4,365.4 388.1,364.3 387.8,363.2 387.6,362.2 387.3,361.1 387.0,360.0 386.7,358.9 386.5,357.8 386.2,356.8 385.9,355.7 385.6,354.6 385.4,353.5 385.1,352.5 384.9,351.4 384.6,350.3 384.3,349.3 384.1,348.2 383.8,347.1 383.6,346.0 383.3,345.0 383.1,343.9 382.8,342.8 382.6,341.8 382.3,340.7 382.1,339.7 381.8,338.6 381.6,337.5 381.3,336.5 381.1,335.4 380.8,334.3 380.6,333.3 380.4,332.2 380.1,331.2 379.9,330.1 379.7,329.0 379.4,328.0 379.2,326.9 379.0,325.9 378.7,324.8 378.5,323.8 378.3,322.7 378.1,321.7 377.8,320.6 377.6,319.6 377.4,318.5 377.2,317.5 376.9,316.4 376.7,315.4 376.5,314.3 376.3,313.3 376.1,312.2 375.9,311.2 375.6,310.1 375.4,309.1 375.2,308.0 375.0,307.0 374.8,305.9 374.6,304.9 374.4,303.8 374.2,302.8 374.0,301.8 373.8,300.7 373.6,299.7 373.4,298.6 373.2,297.6 373.0,296.5 372.8,295.5 372.6,294.5 372.4,293.4 372.2,292.4 372.0,291.3 371.8,290.3 371.6,289.3 371.4,288.2 371.2,287.2 371.0,286.2 370.8,285.1 370.6,284.1 370.4,283.1 370.2,282.0 370.1,281.0 369.9,280.0 369.7,278.9 369.5,277.9 369.3,276.9"/><polyline stroke="#f00" points="307.1,369.7 307.5,368.6 307.8,367.5 308.1,366.4 308.4,365.4 308.7,364.3 309.1,363.2 309.4,362.1 309.7,361.1 310.0,360.0 310.3,358.9 310.6,357.9 310.9,356.8 311.2,355.7 311.6,354.7 311.9,353.6 312.2,352.5 312.5,351.5 312.8,350.4 313.1,349.3 313.4,348.3 313.7,347.2 314.0,346.1 314.3,345.1 314.6,344.0 314.9,343.0 315.2,341.9 315.5,340.9 315.8,339.8 316.1,338.7 316.4,337.7 316.7,336.6 317.0,335.6 317.3,334.5 317.6,333.5 317.9,332.4 318.2,331.4 318.5,330.3 318.8,329.3 319.1,328.2 319.4,327.2 319.7,326.1 320.0,325.1 320.3,324.1 320.6,323.0 320.9,322.0 321.2,320.9 321.5,319.9 321.8,318.9 322.1,317.8 322.4,316.8 322.7,315.7 323.0,314.7 323.3,313.7 323.5,312.6 323.8,311.6 324.1,310.6 324.4,309.5 324.7,308.5 325.0,307.5 325.3,306.4 325.6,305.4 325.9,304.4 326.1,303.3 326.4,302.3 326.7,301.3 327.0,300.2 327.3,299.2 327.6,298.2 327.9,297.2 328.2,296.1 328.4,295.1 328.7,294.1 329.0,293.1 329.3,292.0 329.6,291.0 329.9,290.0 330.2,289.0 330.4,288.0 330.7,286.9 331.0,285.9 331.3,284.9 331.6,283.9 331.9,282.9 332.2,281.8 332.4,280.8 332.7,279.8 333.0,278.8 333.3,277.8 333.6,276.8 333.9,275.7 334.1,274.7 334.4,273.7 334.7,272.7 335.0,271.7 335.3,270.7 335.6,269.7 335.9,268.7 336.1,267.6 336.4,266.6 336.7,265.6 337.0,264.6 337.3,263.6 337.6,262.6 337.8,261.6 338.1,260.6 338.4,259.6 338.7,258.6 339.0,257.6"/><polyline stroke="#f00" points="230.4,332.1 231.2,331.3 232.1,330.5 232.9,329.7 233.7,328.9 234.5,328.1 235.3,327.3 236.1,326.5 236.8,325.7 237.6,324.9 238.4,324.1 239.2,323.3 240.0,322.5 240.8,321.7 241.6,320.9 242.3,320.1 243.1,319.3 243.9,318.5 244.7,317.7 245.4,316.8 246.2,316.0 247.0,315.2 247.7,314.4 248.5,313.6 249.3,312.8 250.0,312.0 250.8,311.2 251.5,310.4 252.3,309.5 253.0,308.7 253.8,307.9 254.5,307.1 255.3,306.3 256.0,305.5 256.8,304.7 257.5,303.8 258.2,303.0 259.0,302.2 259.7,301.4 260.4,300.6 261.2,299.8 261.9,299.0 262.6,298.1 263.4,297.3 264.1,296.5 264.8,295.7 265.5,294.9 266.3,294.1 267.0,293.2 267.7,292.4 268.4,291.6 269.1,290.8 269.9,290.0 270.6,289.2 271.3,288.3 272.0,287.5 272.7,286.7 273.4,285.9 274.1,285.1 274.8,284.2 275.5,283.4 276.2,282.6 276.9,281.8 277.6,281.0 278.3,280.2 279.0,279.3 279.7,278.5 280.4,277.7 281.1,276.9 281.8,276.1 282.5,275.2 283.2,274.4 283.9,273.6 284.6,272.8 285.3,272.0 286.0,271.2 286.7,270.3 287.4,269.5 288.0,268.7 288.7,267.9 289.4,267.1 290.1,266.3 290.8,265.4 291.5,264.6 292.1,263.8 292.8,263.0 293.5,262.2 294.2,261.3 294.9,260.5 295.5,259.7 296.2,258.9 296.9,258.1 297.6,257.3 298.2,256.4 298.9,255.6 299.6,254.8 300.3,254.0 300.9,253.2 301.6,252.4 302.3,251.5 303.0,250.7 303.6,249.9 304.3,249.1 305.0,248.3 305.6,247.5 306.3,246.7 307.0,245.8 307.6,245.0 308.3,244.2 309.0,243.4 309.6,242.6 310.3,241.8 311.0,241.0 311.6,240.1 312.3,239.3 313.0,238.5 313.6,237.7 314.3,236.9 315.0,236.1 315.6,235.3 316.3,234.5 316.9,233.6 317.6,232.8 318.3,232.0 318.9,231.2 319.6,230.4 320.3,229.6 320.9,228.8 321.6,228.0"/><polyline stroke="#f00" points="230.1,236.6 231.1,236.1 232.1,235.6 233.1,235.1 234.1,234.6 235.1,234.1 236.1,233.6 237.0,233.2 238.0,232.7 239.0,232.2 240.0,231.7 241.0,231.2 242.0,230.7 242.9,230.2 243.9,229.8 244.9,229.3 245.9,228.8 246.9,228.3 247.8,227.8 248.8,227.3 249.8,226.8 250.8,226.3 251.7,225.8 252.7,225.4 253.7,224.9 254.6,224.4 255.6,223.9 256.6,223.4 257.5,222.9 258.5,222.4 259.5,221.9 260.4,221.4 261.4,221.0 262.4,220.5 263.3,220.0 264.3,219.5 265.2,219.0 266.2,218.5 267.2,218.0 268.1,217.5 269.1,217.1 270.0,216.6 271.0,216.1 272.0,215.6 272.9,215.1 273.9,214.6 274.8,214.1 275.8,213.6 276.7,213.2 277.7,212.7 278.6,212.2 279.6,211.7 280.5,211.2 281.5,210.7 282.4,210.2 283.4,209.8 284.3,209.3 285.3,208.8 286.2,208.3 287.2,207.8 288.1,207.3 289.1,206.9 290.0,206.4 291.0,205.9 291.9,205.4 292.9,204.9 293.8,204.4 294.7,204.0 295.7,203.5 296.6,203.0 297.6,202.5 298.5,202.0 299.5,201.6 300.4,201.1 301.4,200.6 302.3,200.1 303.2,199.6 304.2,199.2 305.1,198.7 306.1,198.2 307.0,197.7 307.9,197.3 308.9,196.8 309.8,196.3 310.8,195.8 311.7,195.4 312.6,194.9 313.6,194.4 314.5,193.9 315.5,193.5 316.4,193.0 317.3,192.5"/><polyline stroke="#f00" points="231.1,166.0 232.2,165.9 233.3,165.8 234.4,165.6 235.5,165.5 236.7,165.4 237.8,165.3 238.9,165.1 240.0,165.0 241.1,164.9 242.2,164.8 243.3,164.6 244.5,164.5 245.6,164.4 246.7,164.3 247.8,164.1 248.9,164.0 250.0,163.9 251.1,163.8 252.2,163.7 253.3,163.6 254.4,163.5 255.5,163.3 256.6,163.2 257.7,163.1 258.8,163.0 259.9,162.9 261.0,162.8 262.1,162.7 263.2,162.6 264.3,162.5 265.4,162.4 266.5,162.3 267.6,162.2 268.7,162.1 269.8,162.0 270.9,161.9 272.0,161.8 273.1,161.7 274.2,161.6 275.2,161.5 276.3,161.4 277.4,161.3 278.5,161.2 279.6,161.2 280.7,161.1 281.8,161.0 282.8,160.9 283.9,160.8 285.0,160.7 286.1,160.6 287.2,160.6 288.3,160.5 289.3,160.4 290.4,160.3 291.5,160.2 292.6,160.2 293.7,160.1 294.7,160.0 295.8,160.0 296.9,159.9 298.0,159.8 299.0,159.7 300.1,159.7 301.2,159.6 302.3,159.5 303.3,159.5 304.4,159.4 305.5,159.3 306.5,159.3 307.6,159.2 308.7,159.2 309.8,159.1 310.8,159.0 311.9,159.0 313.0,158.9 314.0,158.9 315.1,158.8 316.2,158.8 317.2,158.7 318.3,158.7 319.4,158.6 320.4,158.6 321.5,158.5 322.6,158.5 323.6,158.4 324.7,158.4 325.7,158.3 326.8,158.3 327.9,158.2 328.9,158.2 330.0,158.2"/><polyline stroke="#00f" points="440.0,126.0 440.0,127.0 440.1,128.1 440.1,129.1 440.2,130.2 440.2,131.2 440.2,132.3 440.3,133.3 440.3,134.3 440.4,135.4 440.4,136.4 440.4,137.5 440.5,138.5 440.5,139.6 440.6,140.6 440.6,141.7 440.6,142.7 440.7,143.8 440.7,144.8 440.7,145.8 440.8,146.9 440.8,147.9 440.8,149.0 440.8,150.0 440.9,151.1 440.9,152.1 440.9,153.1 441.0,154.2 441.0,155.2 441.0,156.3 441.0,157.3 441.1,158.3 441.1,159.4 441.1,160.4 441.2,161.5 441.2,162.5 441.2,163.5 441.2,164.6 441.2,165.6 441.3,166.6 441.3,167.7 441.3,168.7 441.3,169.8 441.4,170.8 441.4,171.8 441.4,172.9 441.4,173.9 441.4,174.9 441.4,176.0 441.5,177.0 441.5,178.1 441.5,179.1 441.5,180.1 441.5,181.2 441.5,182.2 441.5,183.2 441.6,184.3 441.6,185.3 441.6,186.3 441.6,187.4 441.6,188.4 441.6,189.5 441.6,190.5 441.6,191.5 441.6,192.6 441.7,193.6 441.7,194.6 441.7,195.7 441.7,196.7 441.7,197.7 441.7,198.8 441.7,199.8 441.7,200.8 441.7,201.9 441.7,202.9 441.8,204.0 441.8,205.0 441.8,206.0 441.8,207.1 441.8,208.1 441.8,209.1 441.8,210.2 441.8,211.2 441.9,212.3 441.9,213.3 441.9,214.3 441.9,215.4 441.9,216.4 441.9,217.4 441.9,218.5 441.9,219.5 441.9,220.6 441.9,221.6 441.9,222.6 441.9,223.7 441.9,224.7 442.0,225.8 442.0,226.8 442.0,227.8 442.0,228.9 442.0,229.9 442.0,231.0 442.0,232.0 442.0,233.0 442.0,234.1 442.0,235.1 442.0,236.2 442.0,237.2 442.0,238.2 442.0,239.3 442.0,240.3 442.0,241.4 441.9,242.4 441.9,243.4 441.9,244.5 441.9,245.5 441.9,246.6 441.9,247.6 441.9,248.7 441.9,249.7 441.9,250.7 441.9,251.8 441.9,252.8 441.9,253.9 441.9,254.9 441.8,256.0 441.8,257.0 441.8,258.1 441.8,259.1 441.8,260.2 441.8,261.2 441.8,262.2 441.7,263.3 441.7,264.3 441.7,265.4 441.7,266.4 441.7,267.5 441.7,268.5 441.6,269.6 441.6,270.6 441.6,271.7 441.6,272.7 441.6,273.8 441.6,274.8 441.5,275.9 441.5,277.0 441.5,278.0 441.5,279.1 441.4,280.1 441.4,281.2 441.4,282.2 441.4,283.3 441.3,284.3 441.3,285.4 441.3,286.5 441.3,287.5 441.2,288.6 441.2,289.6 441.2,290.7 441.1,291.8 441.1,292.8 441.1,293.9 441.1,294.9 441.0,296.0 441.0,297.1 441.0,298.1 440.9,299.2 440.9,300.3 440.9,301.3 440.8,302.4 440.8,303.5 440.7,304.5 440.7,305.6 440.7,306.7 440.6,307.7 440.6,308.8 440.6,309.9 440.5,310.9 440.5,312.0 440.4,313.1 440.4,314.2 440.3,315.2 440.3,316.3 440.3,317.4 440.2,318.5 440.2,319.5 440.1,320.6 440.1,321.7 440.0,322.8 440.0,323.9 439.9,324.9 439.9,326.0 439.8,327.1 439.8,328.2 439.7,329.3 439.7,330.4 439.6,331.4 439.6,332.5 439.5,333.6 439.5,334.7 439.4,335.8 439.4,336.9 439.3,338.0 439.2,339.1 439.2,340.2 439.1,341.3 439.1,342.4 439.0,343.5 438.9,344.5 438.9,345.6 438.8,346.7 438.8,347.8 438.7,348.9 438.6,350.0 438.6,351.1 438.5,352.2 438.4,353.4 438.4,354.5 438.3,355.6 438.2,356.7 438.1,357.8 438.1,358.9 438.0,360.0 437.9,361.1 437.9,362.2 437.8,363.3 437.7,364.5 437.6,365.6 437.5,366.7 437.5,367.8 437.4,368.9"/><polyline stroke="#00f" points="468.5,148.3 468.1,149.3 467.6,150.2 467.2,151.2 466.8,152.2 466.4,153.1 466.0,154.1 465.6,155.0 465.2,156.0 464.7,156.9 464.3,157.9 463.9,158.9 463.5,159.8 463.1,160.8 462.7,161.7 462.2,162.7 461.8,163.6 461.4,164.6 461.0,165.6 460.6,166.5 460.2,167.5 459.8,168.4 459.3,169.4 458.9,170.3 458.5,171.3 458.1,172.2 457.7,173.2 457.3,174.1 456.8,175.1 456.4,176.0 456.0,177.0 455.6,177.9 455.2,178.9 454.7,179.8 454.3,180.8 453.9,181.7 453.5,182.7 453.1,183.6 452.6,184.6 452.2,185.5 451.8,186.5 451.4,187.4 451.0,188.4 450.5,189.3 450.1,190.3 449.7,191.2 449.3,192.2 448.9,193.1 448.4,194.1 448.0,195.0 447.6,195.9 447.2,196.9 446.7,197.8 446.3,198.8 445.9,199.7 445.4,200.7 445.0,201.6 444.6,202.6 444.2,203.5 443.7,204.4 443.3,205.4 442.9,206.3 442.4,207.3 442.0,208.2 441.6,209.2 441.2,210.1 440.7,211.0 440.3,212.0 439.9,212.9 439.4,213.9 439.0,214.8 438.5,215.7 438.1,216.7 437.7,217.6 437.3,218.6 436.8,219.5 436.4,220.5 436.0,221.4 435.6,222.4 435.1,223.3 434.7,224.3 434.3,225.2 433.8,226.2 433.4,227.1 433.0,228.1 432.5,229.0 432.1,230.0 431.7,230.9 431.2,231.8 430.8,232.8 430.4,233.7 429.9,234.7 429.5,235.6 429.1,236.6 428.6,237.5 428.2,238.5 427.7,239.4 427.3,240.4 426.9,241.3 426.4,242.2 426.0,243.2 425.5,244.1 425.1,245.1 424.6,246.0 424.2,247.0 423.7,247.9 423.3,248.9 422.8,249.8 422.4,250.7 421.9,251.7 421.5,252.6 421.0,253.6 420.6,254.5 420.1,255.5 419.7,256.4 419.2,257.3 418.8,258.3 418.3,259.2 417.8,260.2 417.4,261.1 416.9,262.1 416.5,263.0 416.0,263.9 415.5,264.9 415.1,265.8 414.6,266.8 414.1,267.7 413.7,268.7 413.2,269.6 412.7,270.5 412.3,271.5 411.8,272.4 411.3,273.4 410.8,274.3 410.4,275.3 409.9,276.2 409.4,277.1 408.9,278.1 408.4,279.0 408.0,280.0 407.5,280.9 407.0,281.9 406.5,282.8 406.0,283.7 405.5,284.7 405.0,285.6 404.5,286.6 404.1,287.5 403.6,288.4 403.1,289.4 402.6,290.3 402.1,291.3 401.6,292.2 401.1,293.2 400.6,294.1 400.1,295.0 399.6,296.0 399.1,296.9 398.5,297.9 398.0,298.8 397.5,299.8 397.0,300.7 396.5,301.6 396.0,302.6 395.5,303.5 395.0,304.5 394.4,305.4 393.9,306.3 393.4,307.3 392.9,308.2 392.3,309.2 391.8,310.1 391.3,311.1 390.7,312.0 390.2,312.9 389.7,313.9 389.1,314.8 388.6,315.8 388.1,316.7 387.5,317.7 387.0,318.6 386.4,319.5 385.9,320.5 385.3,321.4 384.8,322.4 384.2,323.3 383.7,324.2 383.1,325.2 382.6,326.1 382.0,327.1 381.4,328.0 380.9,329.0 380.3,329.9 379.7,330.8 379.2,331.8 378.6,332.7 378.0,333.7 377.4,334.6 376.9,335.5 376.3,336.5 375.7,337.4 375.1,338.4 374.5,339.3 373.9,340.3 373.3,341.2 372.7,342.1 372.2,343.1 371.6,344.0 370.9,345.0 370.3,345.9 369.7,346.8 369.1,347.8 368.5,348.7 367.9,349.7 367.3,350.6 366.7,351.5 366.1,352.5 365.4,353.4 364.8,354.4 364.2,355.3 363.5,356.2 362.9,357.2 362.3,358.1 361.6,359.1 361.0,360.0 360.4,360.9 359.7,361.9 359.1,362.8 358.4,363.8 357.8,364.7 357.1,365.6 356.4,366.6 355.8,367.5 355.1,368.4 354.4,369.4"/><polyline stroke="#00f" points="482.4,180.7 481.6,181.5 480.8,182.2 480.1,182.9 479.3,183.6 478.6,184.3 477.8,185.1 477.0,185.8 476.3,186.5 475.5,187.2 474.8,187.9 474.0,188.6 473.2,189.3 472.5,190.1 471.7,190.8 470.9,191.5 470.2,192.2 469.4,192.9 468.7,193.6 467.9,194.3 467.1,195.0 466.4,195.8 465.6,196.5 464.9,197.2 464.1,197.9 463.3,198.6 462.6,199.3 461.8,200.0 461.0,200.7 460.3,201.4 459.5,202.1 458.8,202.9 458.0,203.6 457.2,204.3 456.5,205.0 455.7,205.7 454.9,206.4 454.2,207.1 453.4,207.8 452.6,208.5 451.9,209.2 451.1,209.9 450.4,210.6 449.6,211.3 448.8,212.0 448.1,212.7 447.3,213.4 446.5,214.1 445.8,214.8 445.0,215.5 444.2,216.2 443.4,216.9 442.7,217.6 441.9,218.3 441.1,219.0 440.4,219.7 439.6,220.4 438.8,221.1 438.0,221.8 437.3,222.5 436.5,223.2 435.7,223.9 435.0,224.6 434.2,225.3 433.4,225.9 432.6,226.6 431.9,227.3 431.1,228.0 430.3,228.7 429.5,229.4 428.7,230.1 428.0,230.8 427.2,231.5 426.4,232.2 425.6,232.9 424.8,233.5 424.1,234.2 423.3,234.9 422.5,235.6 421.7,236.3 420.9,237.0 420.2,237.7 419.4,238.4 418.6,239.1 417.8,239.7 417.0,240.4 416.2,241.1 415.4,241.8 414.6,242.5 413.9,243.2 413.1,243.8 412.3,244.5 411.5,245.2 410.7,245.9 409.9,246.6 409.1,247.3 408.3,247.9 407.5,248.6 406.7,249.3 405.9,250.0 405.1,250.7 404.3,251.3 403.5,252.0 402.7,252.7 401.9,253.4 401.1,254.0 400.3,254.7 399.5,255.4 398.7,256.1 397.9,256.7 397.1,257.4 396.3,258.1 395.5,258.7 394.6,259.4 393.8,260.1 393.0,260.7 392.2,261.4 391.4,262.1 390.6,262.7 389.8,263.4 388.9,264.1 388.1,264.7 387.3,265.4 386.5,266.1 385.7,266.7 384.8,267.4 384.0,268.1 383.2,268.7 382.4,269.4 381.5,270.0 380.7,270.7 379.9,271.4 379.0,272.0 378.2,272.7 377.4,273.3 376.5,274.0 375.7,274.6 374.8,275.3 374.0,275.9 373.2,276.6 372.3,277.2 371.5,277.9 370.6,278.6 369.8,279.2 368.9,279.8 368.1,280.5 367.2,281.1 366.4,281.8 365.5,282.4 364.7,283.1 363.8,283.7 363.0,284.4 362.1,285.0 361.2,285.6 360.4,286.3 359.5,286.9 358.6,287.6 357.8,288.2 356.9,288.8 356.0,289.5 355.2,290.1 354.3,290.7 353.4,291.4 352.5,292.0 351.6,292.6 350.8,293.3 349.9,293.9 349.0,294.5 348.1,295.2 347.2,295.8 346.3,296.4 345.4,297.0 344.5,297.7 343.7,298.3 342.8,298.9 341.9,299.5 341.0,300.1 340.1,300.8 339.1,301.4 338.2,302.0 337.3,302.6 336.4,303.2 335.5,303.8 334.6,304.4 333.7,305.1 332.8,305.7 331.8,306.3 330.9,306.9 330.0,307.5 329.1,308.1 328.1,308.7 327.2,309.3 326.3,309.9 325.3,310.5 324.4,311.1 323.5,311.7 322.5,312.3 321.6,312.9 320.6,313.5 319.7,314.1 318.7,314.7 317.8,315.2 316.8,315.8 315.9,316.4 314.9,317.0 314.0,317.6 313.0,318.2 312.0,318.7 311.1,319.3 310.1,319.9 309.1,320.5 308.1,321.1 307.2,321.6 306.2,322.2 305.2,322.8 304.2,323.3 303.2,323.9 302.2,324.5 301.2,325.0 300.3,325.6 299.3,326.2 298.3,326.7 297.3,327.3 296.2,327.8 295.2,328.4 294.2,328.9 293.2,329.5 292.2,330.0 291.2,330.6 290.2,331.1 289.1,331.7 288.1,332.2 287.1,332.8 286.1,333.3 285.0,333.8 284.0,334.4 282.9,334.9 281.9,335.4 280.9,336.0 279.8,336.5 278.8,337.0 277.7,337.5 276.6,338.1 275.6,338.6 274.5,339.1 273.5,339.6 272.4,340.1 271.3,340.6 270.2,341.2 269.2,341.7 268.1,342.2 267.0,342.7 265.9,343.2 264.8,343.7 263.7,344.2 262.6,344.7 261.5,345.1 260.4,345.6 259.3,346.1 258.2,346.6 257.1,347.1 256.0,347.6 254.9,348.0 253.7,348.5 252.6,349.0 251.5,349.5 250.3,349.9 249.2,350.4 248.1,350.8 246.9,351.3 245.8,351.8 244.6,352.2 243.5,352.7 242.3,353.1 241.2,353.6 240.0,354.0 238.8,354.4 237.7,354.9 236.5,355.3 235.3,355.7 234.1,356.2 232.9,356.6 231.8,357.0 230.6,357.4"/><polyline stroke="#00f" points="481.2,217.2 480.2,217.6 479.2,217.9 478.2,218.3 477.2,218.6 476.3,219.0 475.3,219.3 474.3,219.7 473.3,220.0 472.3,220.3 471.3,220.7 470.3,221.0 469.3,221.4 468.3,221.7 467.3,222.1 466.3,222.4 465.3,222.8 464.3,223.1 463.3,223.4 462.3,223.8 461.3,224.1 460.3,224.4 459.3,224.8 458.4,225.1 457.4,225.5 456.4,225.8 455.4,226.1 454.4,226.5 453.4,226.8 452.4,227.1 451.4,227.5 450.4,227.8 449.4,228.1 448.4,228.4 447.4,228.8 446.4,229.1 445.4,229.4 444.4,229.7 443.4,230.1 442.4,230.4 441.4,230.7 440.4,231.0 439.5,231.4 438.5,231.7 437.5,232.0 436.5,232.3 435.5,232.6 434.5,233.0 433.5,233.3 432.5,233.6 431.5,233.9 430.5,234.2 429.5,234.5 428.5,234.8 427.5,235.1 426.5,235.5 425.5,235.8 424.5,236.1 423.5,236.4 422.5,236.7 421.5,237.0 420.5,237.3 419.5,237.6 418.5,237.9 417.5,238.2 416.5,238.5 415.5,238.8 414.5,239.1 413.5,239.4 412.5,239.7 411.5,240.0 410.5,240.3 409.5,240.6 408.5,240.9 407.5,241.2 406.5,241.6 405.5,241.9 404.5,242.2 403.5,242.5 402.5,242.8 401.5,243.1 400.5,243.4 399.5,243.7 398.6,244.0 397.6,244.3 396.6,244.6 395.6,244.9 394.6,245.2 393.6,245.5 392.6,245.8 391.6,246.1 390.6,246.3 389.6,246.6 388.6,246.9 387.5,247.2 386.5,247.5 385.5,247.8 384.5,248.1 383.5,248.4 382.5,248.7 381.5,248.9 380.5,249.2 379.5,249.5 378.5,249.8 377.5,250.1 376.5,250.3 375.5,250.6 374.5,250.9 373.5,251.2 372.4,251.5 371.4,251.7 370.4,252.0 369.4,252.3 368.4,252.5 367.4,252.8 366.4,253.1 365.3,253.4 364.3,253.6 363.3,253.9 362.3,254.2 361.3,254.4 360.3,254.7 359.2,254.9 358.2,255.2 357.2,255.5 356.2,255.7 355.2,256.0 354.1,256.2 353.1,256.5 352.1,256.7 351.1,257.0 350.0,257.3 349.0,257.5 348.0,257.8 346.9,258.0 345.9,258.3 344.9,258.5 343.9,258.7 342.8,259.0 341.8,259.2 340.8,259.5 339.7,259.7 338.7,260.0 337.6,260.2 336.6,260.4 335.6,260.7 334.5,260.9 333.5,261.1 332.5,261.4 331.4,261.6 330.4,261.8 329.3,262.1 328.3,262.3 327.2,262.5 326.2,262.7 325.1,263.0 324.1,263.2 323.0,263.4 322.0,263.6 320.9,263.8 319.9,264.1 318.8,264.3 317.8,264.5 316.7,264.7 315.7,264.9 314.6,265.1 313.6,265.3 312.5,265.5 311.4,265.7 310.4,266.0 309.3,266.2 308.3,266.4 307.2,266.6 306.1,266.8 305.1,267.0 304.0,267.2 302.9,267.4 301.9,267.5 300.8,267.7 299.7,267.9 298.6,268.1 297.6,268.3 296.5,268.5 295.4,268.7 294.3,268.9 293.3,269.1 292.2,269.2 291.1,269.4 290.0,269.6 288.9,269.8 287.9,269.9 286.8,270.1 285.7,270.3 284.6,270.5 283.5,270.6 282.4,270.8 281.3,271.0 280.2,271.1 279.1,271.3 278.0,271.5 276.9,271.6 275.8,271.8 274.7,271.9 273.6,272.1 272.5,272.3 271.4,272.4 270.3,272.6 269.2,272.7 268.1,272.9 267.0,273.0 265.9,273.1 264.8,273.3 263.7,273.4 262.6,273.6 261.5,273.7 260.3,273.8 259.2,274.0 258.1,274.1 257.0,274.2 255.9,274.4 254.7,274.5 253.6,274.6 252.5,274.7 251.4,274.9 250.2,275.0 249.1,275.1 248.0,275.2 246.8,275.3 245.7,275.5 244.6,275.6 243.4,275.7 242.3,275.8 241.1,275.9 240.0,276.0 238.9,276.1 237.7,276.2 236.6,276.3 235.4,276.4 234.3,276.5 233.1,276.6 232.0,276.7 230.8,276.8"/><polyline stroke="#00f" points="466.1,250.3 465.0,250.2 463.9,250.1 462.9,250.0 461.8,249.9 460.8,249.8 459.7,249.7 458.7,249.6 457.6,249.5 456.6,249.4 455.5,249.3 454.4,249.2 453.4,249.1 452.3,249.0 451.3,248.8 450.2,248.7 449.2,248.6 448.1,248.5 447.1,248.4 446.0,248.3 445.0,248.2 443.9,248.1 442.9,247.9 441.8,247.8 440.8,247.7 439.7,247.6 438.7,247.5 437.7,247.3 436.6,247.2 435.6,247.1 434.5,247.0 433.5,246.8 432.4,246.7 431.4,246.6 430.4,246.5 429.3,246.3 428.3,246.2 427.2,246.1 426.2,245.9 425.1,245.8 424.1,245.7 423.1,245.5 422.0,245.4 421.0,245.2 419.9,245.1 418.9,245.0 417.9,244.8 416.8,244.7 415.8,244.5 414.8,244.4 413.7,244.2 412.7,244.1 411.6,244.0 410.6,243.8 409.6,243.7 408.5,243.5 407.5,243.4 406.5,243.2 405.4,243.1 404.4,242.9 403.4,242.7 402.3,242.6 401.3,242.4 400.3,242.3 399.2,242.1 398.2,242.0 397.2,241.8 396.1,241.6 395.1,241.5 394.1,241.3 393.0,241.1 392.0,241.0 391.0,240.9 389.9,240.7 388.9,240.6 387.9,240.4 386.9,240.3 385.8,240.1 384.8,240.0 383.8,239.8 382.7,239.7 381.7,239.5 380.7,239.4 379.6,239.2 378.6,239.0 377.6,238.9 376.6,238.7 375.5,238.6 374.5,238.4 373.5,238.2 372.4,238.1 371.4,237.9 370.4,237.8 369.3,237.6 368.3,237.4 367.3,237.3 366.3,237.1 365.2,236.9 364.2,236.8 363.2,236.6 362.1,236.4 361.1,236.2 360.1,236.1 359.1,235.9 358.0,235.7 357.0,235.6 356.0,235.4 354.9,235.2 353.9,235.0 352.9,234.8 351.8,234.7 350.8,234.5 349.8,234.3 348.8,234.1 347.7,233.9 346.7,233.7 345.7,233.6 344.6,233.4 343.6,233.2 342.6,233.0 341.5,232.8 340.5,232.6 339.5,232.4 338.4,232.2 337.4,232.0 336.4,231.9 335.4,231.7 334.3,231.5 333.3,231.3 332.3,231.1 331.2,230.9 330.2,230.7 329.2,230.5 328.1,230.3 327.1,230.1 326.1,229.9 325.0,229.7 324.0,229.5 323.0,229.3 321.9,229.1 320.9,228.8 319.9,228.6 318.8,228.4 317.8,228.2 316.8,228.0 315.7,227.8 314.7,227.6 313.6,227.4 312.6,227.2 311.6,227.0 310.5,226.7 309.5,226.5 308.5,226.3 307.4,226.1 306.4,225.9 305.3,225.6 304.3,225.4 303.3,225.2 302.2,225.0 301.2,224.8 300.1,224.5 299.1,224.3 298.1,224.1 297.0,223.9 296.0,223.6 294.9,223.4 293.9,223.2 292.8,223.0 291.8,222.7 290.8,222.5 289.7,222.3 288.7,222.0 287.6,221.8 286.6,221.6 285.5,221.3 284.5,221.1 283.4,220.9 282.4,220.6 281.3,220.4 280.3,220.2 279.2,219.9 278.2,219.7 277.1,219.5 276.1,219.2 275.0,219.0 274.0,218.7 272.9,218.5 271.9,218.2 270.8,218.0 269.8,217.8 268.7,217.5 267.7,217.3 266.6,217.0 265.6,216.8 264.5,216.5 263.4,216.3 262.4,216.0 261.3,215.8 260.3,215.5 259.2,215.3 258.1,215.0 257.1,214.8 256.0,214.5 255.0,214.3 253.9,214.0 252.8,213.8 251.8,213.5 250.7,213.3 249.6,213.0 248.6,212.8 247.5,212.5 246.4,212.2 245.4,212.0 244.3,211.7 243.2,211.5 242.1,211.2 241.1,211.0 240.0,210.7 238.9,210.4 237.9,210.2 236.8,209.9 235.7,209.7 234.6,209.4 233.5,209.1 232.5,208.9 231.4,208.6 230.3,208.3"/><polyline stroke="#00f" points="440.5,274.2 439.5,273.7 438.6,273.2 437.7,272.7 436.8,272.1 435.8,271.6 434.9,271.1 434.0,270.5 433.1,270.0 432.2,269.5 431.2,269.0 430.3,268.4 429.4,267.9 428.5,267.3 427.6,266.8 426.7,266.3 425.7,265.7 424.8,265.2 423.9,264.7 423.0,264.1 422.1,263.6 421.2,263.0 420.3,262.5 419.4,262.0 418.5,261.4 417.6,260.9 416.7,260.3 415.8,259.8 414.9,259.2 414.0,258.7 413.1,258.1 412.2,257.6 411.3,257.0 410.4,256.5 409.5,255.9 408.6,255.4 407.7,254.8 406.8,254.3 406.0,253.7 405.1,253.2 404.2,252.6 403.3,252.0 402.4,251.5 401.5,250.9 400.6,250.4 399.8,249.8 398.9,249.2 398.0,248.7 397.1,248.1 396.2,247.6 395.3,247.0 394.5,246.4 393.6,245.9 392.7,245.3 391.8,244.7 391.0,244.2 390.1,243.6 389.2,243.0 388.3,242.5 387.5,241.9 386.6,241.3 385.7,240.7 384.8,240.2 384.0,239.6 383.1,239.0 382.2,238.5 381.4,237.9 380.5,237.3 379.6,236.7 378.7,236.1 377.9,235.6 377.0,235.0 376.1,234.4 375.3,233.8 374.4,233.3 373.5,232.7 372.7,232.1 371.8,231.5 370.9,231.0 370.1,230.4 369.2,229.8 368.3,229.2 367.5,228.7 366.6,228.1 365.8,227.5 364.9,226.9 364.0,226.4 363.2,225.8 362.3,225.2 361.4,224.6 360.6,224.0 359.7,223.4 358.9,222.9 358.0,222.3 357.1,221.7 356.3,221.1 355.4,220.5 354.6,219.9 353.7,219.3 352.8,218.8 352.0,218.2 351.1,217.6 350.3,217.0 349.4,216.4 348.6,215.8 347.7,215.2 346.8,214.6 346.0,214.0 345.1,213.4 344.3,212.8 343.4,212.3 342.6,211.7 341.7,211.1 340.9,210.5 340.0,209.9 339.1,209.3 338.3,208.7 337.4,208.1 336.6,207.5 335.7,206.9 334.9,206.3 334.0,205.7 333.2,205.1 332.3,204.5 331.5,203.9 330.6,203.3 329.8,202.7 328.9,202.1 328.1,201.5 327.2,200.9 326.3,200.3 325.5,199.7 324.6,199.1 323.8,198.5 322.9,197.9 322.1,197.2 321.2,196.6 320.4,196.0 319.5,195.4 318.7,194.8 317.8,194.2 317.0,193.6 316.1,193.0 315.3,192.4 314.4,191.8 313.5,191.2 312.7,190.6 311.8,189.9 311.0,189.3 310.1,188.7 309.3,188.1 308.4,187.5 307.6,186.9 306.7,186.3 305.9,185.7 305.0,185.1 304.1,184.4 303.3,183.8 302.4,183.2 301.6,182.6 300.7,182.0 299.9,181.4 299.0,180.8 298.1,180.1 297.3,179.5 296.4,178.9 295.6,178.3 294.7,177.7 293.8,177.1 293.0,176.5 292.1,175.8 291.3,175.2 290.4,174.6 289.5,174.0 288.7,173.4 287.8,172.8 286.9,172.1 286.1,171.5 285.2,170.9 284.3,170.3 283.5,169.7 282.6,169.0 281.7,168.4 280.9,167.8 280.0,167.2 279.1,166.6 278.3,166.0 277.4,165.3 276.5,164.7 275.7,164.1 274.8,163.5 273.9,162.9 273.0,162.3 272.2,161.6 271.3,161.0 270.4,160.4 269.5,159.8 268.6,159.2 267.8,158.5 266.9,157.9 266.0,157.3 265.1,156.7 264.2,156.1 263.4,155.5 262.5,154.8 261.6,154.2 260.7,153.6 259.8,153.0 258.9,152.4 258.0,151.8 257.1,151.1 256.2,150.5 255.4,149.9 254.5,149.3 253.6,148.7 252.7,148.1 251.8,147.5 250.9,146.8 250.0,146.2 249.1,145.6 248.2,145.0 247.3,144.4 246.4,143.8 245.5,143.2 244.6,142.6 243.6,141.9 242.7,141.3 241.8,140.7 240.9,140.1 240.0,139.5 239.1,138.9 238.2,138.3 237.3,137.7 236.3,137.1 235.4,136.5 234.5,135.9 233.6,135.2 232.6,134.6 231.7,134.0 230.8,133.4"/><polyline stroke="#00f" points="405.4,282.7 404.7,281.8 404.1,280.9 403.5,280.1 402.9,279.2 402.2,278.4 401.6,277.5 401.0,276.6 400.4,275.8 399.8,274.9 399.2,274.1 398.5,273.2 397.9,272.3 397.3,271.5 396.7,270.6 396.1,269.7 395.5,268.9 394.9,268.0 394.3,267.2 393.7,266.3 393.1,265.4 392.5,264.6 391.9,263.7 391.3,262.8 390.7,262.0 390.1,261.1 389.5,260.2 388.9,259.4 388.3,258.5 387.7,257.6 387.1,256.8 386.5,255.9 385.9,255.0 385.4,254.2 384.8,253.3 384.2,252.4 383.6,251.6 383.0,250.7 382.4,249.8 381.8,249.0 381.3,248.1 380.7,247.2 380.1,246.4 379.5,245.5 378.9,244.6 378.4,243.8 377.8,242.9 377.2,242.0 376.6,241.1 376.1,240.3 375.5,239.4 374.9,238.5 374.3,237.7 373.8,236.8 373.2,235.9 372.6,235.0 372.1,234.2 371.5,233.3 370.9,232.4 370.4,231.6 369.8,230.7 369.2,229.8 368.7,228.9 368.1,228.1 367.5,227.2 367.0,226.3 366.4,225.4 365.8,224.6 365.3,223.7 364.7,222.8 364.2,221.9 363.6,221.1 363.0,220.2 362.5,219.3 361.9,218.4 361.4,217.6 360.8,216.7 360.3,215.8 359.7,214.9 359.1,214.1 358.6,213.2 358.0,212.3 357.5,211.4 356.9,210.6 356.4,209.7 355.8,208.8 355.3,207.9 354.7,207.1 354.2,206.2 353.6,205.3 353.1,204.4 352.5,203.5 352.0,202.7 351.4,201.8 350.9,200.9 350.3,200.0 349.8,199.1 349.2,198.3 348.7,197.4 348.1,196.5 347.6,195.6 347.0,194.7 346.5,193.9 345.9,193.0 345.4,192.1 344.9,191.2 344.3,190.3 343.8,189.4 343.2,188.6 342.7,187.7 342.1,186.8 341.6,185.9 341.1,185.0 340.5,184.1 340.0,183.3 339.4,182.4 338.9,181.5 338.3,180.6 337.8,179.7 337.3,178.8 336.7,177.9 336.2,177.0 335.6,176.2 335.1,175.3 334.5,174.4 334.0,173.5 333.5,172.6 332.9,171.7 332.4,170.8 331.8,169.9 331.3,169.0 330.8,168.1 330.2,167.3 329.7,166.4 329.1,165.5 328.6,164.6 328.1,163.7 327.5,162.8 327.0,161.9 326.4,161.0 325.9,160.1 325.4,159.2 324.8,158.3 324.3,157.4 323.7,156.5 323.2,155.6 322.6,154.8 322.1,153.9 321.6,153.0 321.0,152.1 320.5,151.2 319.9,150.3 319.4,149.4 318.8,148.5 318.3,147.6 317.8,146.7 317.2,145.8 316.7,144.9 316.1,144.0 315.6,143.1 315.0,142.2 314.5,141.3 313.9,140.4 313.4,139.5 312.8,138.6 312.3,137.7 311.7,136.8 311.2,135.9 310.6,135.0 310.1,134.1 309.5,133.2 309.0,132.3 308.4,131.4 307.9,130.5 307.3,129.6 306.8,128.7 306.2,127.8 305.7,126.9 305.1,126.0 304.6,125.1 304.0,124.2 303.5,123.3 302.9,122.3 302.3,121.4 301.8,120.5 301.2,119.6 300.7,118.7 300.1,117.8 299.5,116.9 299.0,116.0 298.4,115.1 297.8,114.2 297.3,113.3 296.7,112.4 296.1,111.5 295.6,110.6 295.0,109.6 294.4,108.7 293.9,107.8 293.3,106.9 292.7,106.0 292.2,105.1 291.6,104.2 291.0,103.3 290.4,102.4 289.9,101.5 289.3,100.5 288.7,99.6 288.1,98.7 287.5,97.8 287.0,96.9 286.4,96.0 285.8,95.1 285.2,94.2 284.6,93.2 284.0,92.3 283.4,91.4 282.9,90.5 282.3,89.6 281.7,88.7 281.1,87.8 280.5,86.9 279.9,85.9 279.3,85.0 278.7,84.1 278.1,83.2 277.5,82.3 276.9,81.4 276.3,80.4 275.7,79.5 275.1,78.6 274.5,77.7 273.8,76.8 273.2,75.9 272.6,74.9 272.0,74.0 271.4,73.1 270.8,72.2 270.1,71.3 269.5,70.4 268.9,69.4 268.3,68.5 267.7,67.6 267.0,66.7 266.4,65.8 265.8,64.8 265.1,63.9 264.5,63.0 263.9,62.1 263.2,61.2 262.6,60.3 261.9,59.3 261.3,58.4 260.7,57.5 260.0,56.6 259.4,55.7 258.7,54.7 258.0,53.8 257.4,52.9 256.7,52.0 256.1,51.1 255.4,50.1 254.8,49.2 254.1,48.3 253.4,47.4 252.7,46.4 252.1,45.5 251.4,44.6 250.7,43.7 250.0,42.8 249.4,41.8 248.7,40.9 248.0,40.0 247.3,39.1 246.6,38.2 245.9,37.2 245.2,36.3 244.5,35.4 243.8,34.5 243.1,33.6 242.4,32.6 241.7,31.7 241.0,30.8"/><polyline stroke="#00f" points="369.3,276.9 369.1,275.8 368.9,274.8 368.8,273.8 368.6,272.7 368.4,271.7 368.2,270.7 368.0,269.6 367.9,268.6 367.7,267.6 367.5,266.5 367.3,265.5 367.2,264.5 367.0,263.5 366.8,262.4 366.6,261.4 366.5,260.4 366.3,259.4 366.1,258.3 366.0,257.3 365.8,256.3 365.6,255.2 365.5,254.2 365.3,253.2 365.1,252.2 365.0,251.1 364.8,250.1 364.6,249.1 364.5,248.1 364.3,247.0 364.1,246.0 364.0,245.0 363.8,244.0 363.7,242.9 363.5,241.9 363.3,240.9 363.2,239.9 363.0,238.8 362.9,237.8 362.7,236.8 362.6,235.8 362.4,234.8 362.2,233.7 362.1,232.7 361.9,231.7 361.8,230.7 361.6,229.6 361.5,228.6 361.3,227.6 361.2,226.6 361.0,225.5 360.9,224.5 360.7,223.5 360.6,222.5 360.4,221.5 360.3,220.4 360.1,219.4 360.0,218.4 359.9,217.4 359.7,216.3 359.6,215.3 359.4,214.3 359.3,213.3 359.1,212.3 359.0,211.2 358.9,210.2 358.7,209.2 358.6,208.2 358.4,207.1 358.3,206.1 358.2,205.1 358.0,204.1 357.9,203.0 357.7,202.0 357.6,201.0 357.4,200.0 357.3,199.0 357.1,197.9 357.0,196.9 356.8,195.9 356.7,194.9 356.5,193.8 356.4,192.8 356.2,191.8 356.1,190.8 356.0,189.7 355.8,188.7 355.7,187.7 355.5,186.7 355.4,185.6 355.3,184.6 355.1,183.6 355.0,182.5 354.8,181.5 354.7,180.5 354.6,179.5 354.4,178.4 354.3,177.4 354.2,176.4 354.0,175.4 353.9,174.3 353.8,173.3 353.6,172.3 353.5,171.2 353.4,170.2 353.2,169.2 353.1,168.2 353.0,167.1 352.8,166.1 352.7,165.1 352.6,164.0 352.4,163.0 352.3,162.0 352.2,160.9 352.1,159.9 351.9,158.9 351.8,157.9 351.7,156.8 351.5,155.8 351.4,154.8 351.3,153.7 351.2,152.7 351.0,151.7 350.9,150.6 350.8,149.6 350.7,148.6 350.5,147.5 350.4,146.5 350.3,145.4 350.2,144.4 350.0,143.4 349.9,142.3 349.8,141.3 349.7,140.3 349.6,139.2 349.4,138.2 349.3,137.1 349.2,136.1 349.1,135.1 349.0,134.0 348.8,133.0 348.7,131.9 348.6,130.9 348.5,129.9 348.4,128.8 348.2,127.8 348.1,126.7 348.0,125.7 347.9,124.6 347.8,123.6 347.7,122.6 347.5,121.5 347.4,120.5 347.3,119.4 347.2,118.4 347.1,117.3 347.0,116.3 346.9,115.2 346.7,114.2 346.6,113.1 346.5,112.1 346.4,111.0 346.3,110.0 346.2,108.9 346.1,107.9 345.9,106.8 345.8,105.8 345.7,104.7 345.6,103.7 345.5,102.6 345.4,101.5 345.3,100.5 345.2,99.4 345.1,98.4 344.9,97.3 344.8,96.2 344.7,95.2 344.6,94.1 344.5,93.1 344.4,92.0 344.3,90.9 344.2,89.9 344.1,88.8 344.0,87.7 343.9,86.7 343.7,85.6 343.6,84.5 343.5,83.5 343.4,82.4 343.3,81.3 343.2,80.3 343.1,79.2 343.0,78.1 342.9,77.0 342.8,76.0 342.7,74.9 342.6,73.8 342.5,72.7 342.4,71.7 342.3,70.6 342.2,69.5 342.1,68.4 341.9,67.3 341.8,66.3 341.7,65.2 341.6,64.1 341.5,63.0 341.4,61.9 341.3,60.8 341.2,59.7 341.1,58.7 341.0,57.6 340.9,56.5 340.8,55.4 340.7,54.3 340.6,53.2 340.5,52.1 340.4,51.0 340.3,49.9 340.2,48.8 340.1,47.7 340.0,46.6 339.9,45.5 339.8,44.4 339.7,43.3 339.6,42.2 339.5,41.1 339.4,40.0 339.3,38.9 339.2,37.8 339.1,36.7 339.0,35.6 338.9,34.5 338.8,33.3 338.7,32.2 338.6,31.1"/><polyline stroke="#00f" points="339.0,257.6 339.3,256.6 339.5,255.5 339.8,254.5 340.1,253.5 340.4,252.5 340.7,251.5 341.0,250.5 341.3,249.5 341.5,248.5 341.8,247.5 342.1,246.5 342.4,245.5 342.7,244.5 343.0,243.5 343.3,242.5 343.5,241.5 343.8,240.5 344.1,239.5 344.4,238.5 344.7,237.5 345.0,236.5 345.3,235.5 345.6,234.5 345.8,233.5 346.1,232.5 346.4,231.5 346.7,230.5 347.0,229.5 347.3,228.5 347.6,227.5 347.9,226.5 348.2,225.5 348.5,224.5 348.8,223.5 349.0,222.5 349.3,221.5 349.6,220.5 349.9,219.6 350.2,218.6 350.5,217.6 350.8,216.6 351.1,215.6 351.4,214.6 351.7,213.6 352.0,212.6 352.3,211.6 352.6,210.6 352.9,209.6 353.2,208.6 353.5,207.6 353.8,206.6 354.1,205.7 354.4,204.7 354.7,203.7 355.0,202.7 355.3,201.7 355.6,200.7 355.9,199.7 356.2,198.7 356.5,197.7 356.8,196.7 357.1,195.7 357.4,194.8 357.7,193.8 358.0,192.8 358.3,191.8 358.6,190.8 358.9,189.8 359.2,188.8 359.5,187.8 359.8,186.8 360.2,185.9 360.5,184.9 360.8,183.9 361.1,182.9 361.4,181.9 361.7,180.9 362.0,179.9 362.3,178.9 362.6,177.9 362.9,176.9 363.2,175.9 363.6,174.9 363.9,173.9 364.2,173.0 364.5,172.0 364.8,171.0 365.1,170.0 365.4,169.0 365.8,168.0 366.1,167.0 366.4,166.0 366.7,165.0 367.0,164.0 367.4,163.0 367.7,162.1 368.0,161.1 368.3,160.1 368.6,159.1 369.0,158.1 369.3,157.1 369.6,156.1 369.9,155.1 370.3,154.1 370.6,153.1 370.9,152.1 371.3,151.1 371.6,150.2 371.9,149.2 372.2,148.2 372.6,147.2 372.9,146.2 373.2,145.2 373.6,144.2 373.9,143.2 374.3,142.2 374.6,141.2 374.9,140.2 375.3,139.3 375.6,138.3 376.0,137.3 376.3,136.3 376.6,135.3 377.0,134.3 377.3,133.3 377.7,132.3 378.0,131.3 378.4,130.3 378.7,129.3 379.1,128.3 379.4,127.3 379.8,126.3 380.1,125.4 380.5,124.4 380.8,123.4 381.2,122.4 381.5,121.4 381.9,120.4 382.3,119.4 382.6,118.4 383.0,117.4 383.3,116.4 383.7,115.4 384.1,114.4 384.4,113.4 384.8,112.4 385.2,111.4 385.5,110.4 385.9,109.4 386.3,108.4 386.6,107.4 387.0,106.4 387.4,105.4 387.8,104.4 388.1,103.4 388.5,102.4 388.9,101.4 389.3,100.4 389.7,99.4 390.1,98.4 390.4,97.5 390.8,96.5 391.2,95.5 391.6,94.5 392.0,93.4 392.4,92.4 392.8,91.4 393.2,90.4 393.6,89.4 394.0,88.4 394.4,87.4 394.8,86.4 395.2,85.4 395.6,84.4 396.0,83.4 396.4,82.4 396.8,81.4 397.2,80.4 397.6,79.4 398.0,78.4 398.4,77.4 398.8,76.4 399.3,75.4 399.7,74.4 400.1,73.4 400.5,72.4 401.0,71.4 401.4,70.4 401.8,69.4 402.2,68.3 402.7,67.3 403.1,66.3 403.5,65.3 404.0,64.3 404.4,63.3 404.8,62.3 405.3,61.3 405.7,60.3 406.2,59.3 406.6,58.3 407.1,57.2 407.5,56.2 408.0,55.2 408.4,54.2 408.9,53.2 409.3,52.2 409.8,51.2 410.3,50.2 410.7,49.1 411.2,48.1 411.7,47.1 412.1,46.1 412.6,45.1 413.1,44.1 413.6,43.0 414.0,42.0 414.5,41.0 415.0,40.0 415.5,39.0 416.0,38.0 416.5,36.9 417.0,35.9 417.5,34.9 417.9,33.9 418.4,32.9 418.9,31.9 419.5,30.8"/><polyline stroke="#00f" points="321.6,228.0 322.2,227.2 322.9,226.4 323.6,225.5 324.2,224.7 324.9,223.9 325.5,223.1 326.2,222.3 326.9,221.5 327.5,220.7 328.2,219.9 328.8,219.1 329.5,218.3 330.2,217.5 330.8,216.7 331.5,215.9 332.1,215.1 332.8,214.3 333.5,213.4 334.1,212.6 334.8,211.8 335.5,211.0 336.1,210.2 336.8,209.4 337.4,208.6 338.1,207.8 338.8,207.0 339.4,206.2 340.1,205.4 340.7,204.6 341.4,203.8 342.1,203.0 342.7,202.2 343.4,201.4 344.1,200.6 344.7,199.8 345.4,199.0 346.1,198.2 346.7,197.4 347.4,196.6 348.0,195.8 348.7,195.0 349.4,194.2 350.0,193.5 350.7,192.7 351.4,191.9 352.0,191.1 352.7,190.3 353.4,189.5 354.0,188.7 354.7,187.9 355.4,187.1 356.1,186.3 356.7,185.5 357.4,184.7 358.1,183.9 358.7,183.1 359.4,182.4 360.1,181.6 360.8,180.8 361.4,180.0 362.1,179.2 362.8,178.4 363.5,177.6 364.1,176.8 364.8,176.1 365.5,175.3 366.2,174.5 366.8,173.7 367.5,172.9 368.2,172.1 368.9,171.4 369.6,170.6 370.3,169.8 371.0,169.1 371.7,168.3 372.4,167.5 373.1,166.8 373.8,166.0 374.5,165.3 375.2,164.5 375.9,163.7 376.6,163.0 377.3,162.2 378.0,161.5 378.8,160.7 379.5,159.9 380.2,159.2 380.9,158.4 381.6,157.7 382.3,156.9 383.0,156.1 383.7,155.4 384.4,154.6 385.2,153.9 385.9,153.1 386.6,152.4 387.3,151.6 388.0,150.9 388.8,150.1 389.5,149.4 390.2,148.6 390.9,147.9 391.6,147.1 392.4,146.3 393.1,145.6 393.8,144.8 394.5,144.1 395.3,143.4 396.0,142.6 396.7,141.9 397.5,141.1 398.2,140.4 398.9,139.6 399.7,138.9 400.4,138.1 401.1,137.4 401.9,136.6 402.6,135.9 403.4,135.1 404.1,134.4 404.8,133.7 405.6,132.9 406.3,132.2 407.1,131.4 407.8,130.7 408.6,129.9 409.3,129.2 410.1,128.5 410.8,127.7 411.6,127.0 412.3,126.2 413.1,125.5 413.8,124.8 414.6,124.0 415.4,123.3 416.1,122.6 416.9,121.8 417.7,121.1 418.4,120.4 419.2,119.6 420.0,118.9 420.7,118.2 421.5,117.4 422.3,116.7 423.0,116.0 423.8,115.2 424.6,114.5 425.4,113.8 426.2,113.1 426.9,112.3 427.7,111.6 428.5,110.9 429.3,110.2 430.1,109.4 430.9,108.7 431.7,108.0 432.5,107.3 433.2,106.5 434.0,105.8 434.8,105.1 435.6,104.4 436.4,103.7 437.2,102.9 438.1,102.2 438.9,101.5 439.7,100.8 440.5,100.1 441.3,99.4 442.1,98.6 442.9,97.9 443.7,97.2 444.6,96.5 445.4,95.8 446.2,95.1 447.0,94.4 447.9,93.7 448.7,93.0 449.5,92.3 450.4,91.5 451.2,90.8 452.0,90.1 452.9,89.4 453.7,88.7 454.6,88.0 455.4,87.3 456.2,86.6 457.1,85.9 457.9,85.2 458.8,84.5 459.7,83.8 460.5,83.1 461.4,82.4 462.2,81.8 463.1,81.1 464.0,80.4 464.8,79.7 465.7,79.0 466.6,78.3 467.5,77.6 468.4,76.9 469.2,76.2 470.1,75.6 471.0,74.9 471.9,74.2 472.8,73.5 473.7,72.8 474.6,72.2 475.5,71.5 476.4,70.8 477.3,70.1 478.2,69.5 479.1,68.8 480.0,68.1 480.9,67.4 481.8,66.8 482.8,66.1 483.7,65.4 484.6,64.8 485.5,64.1 486.5,63.4 487.4,62.8 488.3,62.1 489.3,61.5 490.2,60.8 491.2,60.1 492.1,59.5 493.1,58.8 494.0,58.2 495.0,57.5 495.9,56.9 496.9,56.2 497.9,55.6 498.8,55.0 499.8,54.3 500.8,53.7 501.7,53.0 502.7,52.4 503.7,51.8 504.7,51.1 505.7,50.5 506.7,49.9 507.7,49.2 508.7,48.6 509.7,48.0 510.7,47.4 511.7,46.7 512.7,46.1 513.7,45.5 514.7,44.9 515.8,44.3 516.8,43.6 517.8,43.0 518.8,42.4 519.9,41.8 520.9,41.2 522.0,40.6 523.0,40.0 524.0,39.4 525.1,38.8 526.2,38.2 527.2,37.6 528.3,37.0 529.4,36.4 530.4,35.8 531.5,35.3 532.6,34.7 533.7,34.1 534.7,33.5 535.8,32.9 536.9,32.4 538.0,31.8 539.1,31.2 540.2,30.7 541.3,30.1"/><polyline stroke="#00f" points="317.3,192.5 318.3,192.1 319.2,191.6 320.2,191.1 321.1,190.7 322.0,190.2 323.0,189.7 323.9,189.3 324.9,188.8 325.8,188.3 326.7,187.9 327.7,187.4 328.6,186.9 329.5,186.5 330.5,186.0 331.4,185.5 332.4,185.1 333.3,184.6 334.2,184.2 335.2,183.7 336.1,183.2 337.1,182.8 338.0,182.3 338.9,181.9 339.9,181.4 340.8,181.0 341.7,180.5 342.7,180.0 343.6,179.6 344.6,179.1 345.5,178.7 346.4,178.2 347.4,177.8 348.3,177.3 349.3,176.9 350.2,176.4 351.1,176.0 352.1,175.5 353.0,175.1 354.0,174.6 354.9,174.2 355.9,173.8 356.8,173.3 357.7,172.9 358.7,172.4 359.6,172.0 360.6,171.5 361.5,171.1 362.5,170.7 363.4,170.2 364.3,169.8 365.3,169.3 366.2,168.9 367.2,168.5 368.1,168.0 369.1,167.6 370.0,167.2 371.0,166.7 371.9,166.3 372.8,165.9 373.8,165.4 374.7,165.0 375.7,164.6 376.6,164.2 377.6,163.7 378.5,163.3 379.5,162.9 380.4,162.4 381.4,162.0 382.3,161.6 383.3,161.2 384.2,160.8 385.2,160.3 386.2,159.9 387.1,159.5 388.1,159.1 389.0,158.7 390.0,158.3 390.9,157.9 391.9,157.5 392.9,157.0 393.8,156.6 394.8,156.2 395.7,155.8 396.7,155.4 397.7,155.0 398.6,154.6 399.6,154.2 400.6,153.8 401.5,153.4 402.5,153.0 403.4,152.6 404.4,152.2 405.4,151.8 406.3,151.4 407.3,151.0 408.3,150.6 409.3,150.2 410.2,149.8 411.2,149.4 412.2,149.0 413.1,148.6 414.1,148.2 415.1,147.8 416.1,147.4 417.0,147.1 418.0,146.7 419.0,146.3 420.0,145.9 420.9,145.5 421.9,145.1 422.9,144.7 423.9,144.4 424.9,144.0 425.8,143.6 426.8,143.2 427.8,142.8 428.8,142.5 429.8,142.1 430.8,141.7 431.7,141.3 432.7,141.0 433.7,140.6 434.7,140.2 435.7,139.9 436.7,139.5 437.7,139.1 438.7,138.7 439.7,138.4 440.7,138.0 441.7,137.6 442.6,137.3 443.6,136.9 444.6,136.6 445.6,136.2 446.6,135.8 447.6,135.5 448.6,135.1 449.6,134.8 450.7,134.4 451.7,134.1 452.7,133.7 453.7,133.4 454.7,133.0 455.7,132.7 456.7,132.3 457.7,132.0 458.7,131.6 459.7,131.3 460.8,130.9 461.8,130.6 462.8,130.3 463.8,129.9 464.8,129.6 465.8,129.2 466.9,128.9 467.9,128.6 468.9,128.2 469.9,127.9 471.0,127.6 472.0,127.2 473.0,126.9 474.0,126.6 475.1,126.3 476.1,125.9 477.1,125.6 478.2,125.3 479.2,125.0 480.3,124.7 481.3,124.3 482.3,124.0 483.4,123.7 484.4,123.4 485.5,123.1 486.5,122.8 487.6,122.5 488.6,122.2 489.6,121.9 490.7,121.6 491.8,121.3 492.8,120.9 493.9,120.6 494.9,120.3 496.0,120.1 497.0,119.8 498.1,119.5 499.2,119.2 500.2,118.9 501.3,118.6 502.3,118.3 503.4,118.0 504.5,117.7 505.6,117.4 506.6,117.2 507.7,116.9 508.8,116.6 509.8,116.3 510.9,116.1 512.0,115.8 513.1,115.5 514.2,115.2 515.3,115.0 516.3,114.7 517.4,114.4 518.5,114.2 519.6,113.9 520.7,113.6 521.8,113.4 522.9,113.1 524.0,112.9 525.1,112.6 526.2,112.4 527.3,112.1 528.4,111.9 529.5,111.6 530.6,111.4 531.7,111.1 532.8,110.9 533.9,110.7 535.0,110.4 536.2,110.2 537.3,110.0 538.4,109.7 539.5,109.5 540.6,109.3 541.8,109.0 542.9,108.8 544.0,108.6 545.1,108.4 546.3,108.2 547.4,107.9 548.5,107.7 549.7,107.5 550.8,107.3 552.0,107.1 553.1,106.9 554.2,106.7 555.4,106.5 556.5,106.3 557.7,106.1 558.8,105.9 560.0,105.7 561.2,105.5 562.3,105.3 563.5,105.1 564.6,104.9 565.8,104.8 567.0,104.6 568.1,104.4 569.3,104.2"/></g>
</g>
<rect x="240" y="40" width="320" height="320" fill="none" stroke="#6a6a6a" stroke-width="1.6"/>
</svg></body></html>
